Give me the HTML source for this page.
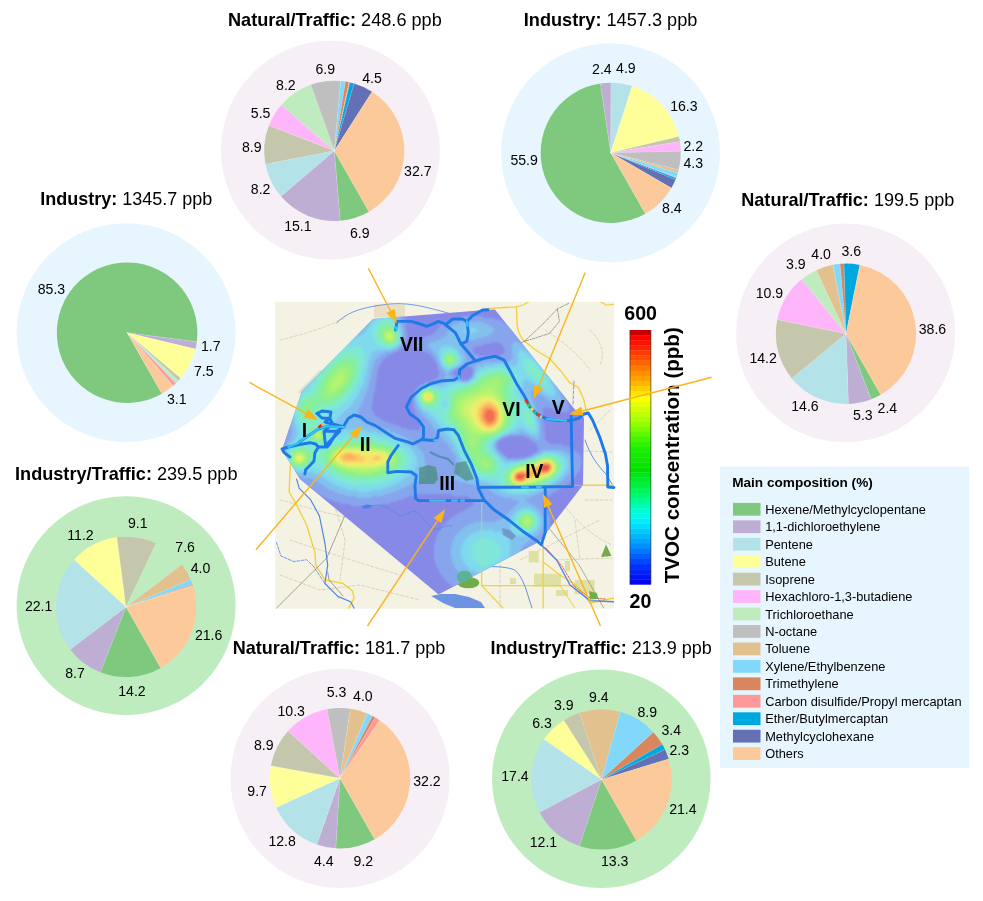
<!DOCTYPE html>
<html><head><meta charset="utf-8"><title>TVOC map</title>
<style>html,body{margin:0;padding:0;background:#fff}body{width:983px;height:901px;position:relative;overflow:hidden;font-family:"Liberation Sans",sans-serif}</style>
</head><body>
<svg width="983" height="901" viewBox="0 0 983 901" style="position:absolute;left:0;top:0;font-family:'Liberation Sans',sans-serif;will-change:transform">
<defs>
<clipPath id="cm"><rect x="275.1" y="301.8" width="338.9" height="306.90000000000003"/></clipPath>
<clipPath id="cp"><polygon points="373,319 485,310 495,309.6 574,408.5 584,418 583,485 539.5,541.5 438.5,594.5 300,479 282,450 302,391"/></clipPath>
<filter id="hb" x="-5%" y="-5%" width="110%" height="110%"><feGaussianBlur stdDeviation="1.1"/></filter>
<linearGradient id="jet" x1="0" y1="0" x2="0" y2="1"><stop offset="0%" stop-color="#c00000"/><stop offset="1.2%" stop-color="#cc0000"/><stop offset="2.6%" stop-color="#ff0000"/><stop offset="6%" stop-color="#ff1800"/><stop offset="15%" stop-color="#ff7a00"/><stop offset="22%" stop-color="#ffc000"/><stop offset="27%" stop-color="#ffff00"/><stop offset="36%" stop-color="#a0ff00"/><stop offset="46%" stop-color="#20f000"/><stop offset="55%" stop-color="#00e000"/><stop offset="64%" stop-color="#00f860"/><stop offset="72%" stop-color="#00ffe0"/><stop offset="76%" stop-color="#00e8ff"/><stop offset="85%" stop-color="#0090ff"/><stop offset="93%" stop-color="#0030ff"/><stop offset="100%" stop-color="#0000f0"/></linearGradient>
</defs>
<rect x="275.1" y="301.8" width="338.9" height="306.90000000000003" fill="#f4f3e3"/>
<g clip-path="url(#cm)" fill="none" stroke-linecap="round" stroke-linejoin="round">
<path d="M280,500 C300,505 330,515 360,520 S400,540 430,560" stroke="#d6cfb2" stroke-width="0.9" stroke-dasharray="3 2"/>
<path d="M290,540 C320,550 350,560 400,575" stroke="#d6cfb2" stroke-width="0.9" stroke-dasharray="3 2"/>
<path d="M560,500 C575,520 590,535 612,545" stroke="#d6cfb2" stroke-width="0.9" stroke-dasharray="3 2"/>
<path d="M545,330 C560,340 575,350 590,370" stroke="#d6cfb2" stroke-width="0.9" stroke-dasharray="3 2"/>
<path d="M280,340 C300,335 320,330 345,318" stroke="#d6cfb2" stroke-width="0.9" stroke-dasharray="3 2"/>
<path d="M556,560 L612,558" stroke="#d6cfb2" stroke-width="0.9" stroke-dasharray="3 2"/>
<path d="M500,560 L500,607" stroke="#d6cfb2" stroke-width="0.9" stroke-dasharray="3 2"/>
<path d="M330,490 L345,540 L340,580" stroke="#d6cfb2" stroke-width="0.9" stroke-dasharray="3 2"/>
<path d="M590,330 C600,340 606,352 600,365" stroke="#d6cfb2" stroke-width="0.9" stroke-dasharray="3 2"/>
<path d="M585,500 L612,500" stroke="#d6cfb2" stroke-width="0.9" stroke-dasharray="3 2"/>
<path d="M575,520 L580,560" stroke="#d6cfb2" stroke-width="0.9" stroke-dasharray="3 2"/>
<path d="M520,560 L560,540 L600,520" stroke="#d6cfb2" stroke-width="0.9" stroke-dasharray="3 2"/>
<path d="M280,575 L320,590 L360,585 L420,600" stroke="#d6cfb2" stroke-width="0.9" stroke-dasharray="3 2"/>
<path d="M560,450 L612,452" stroke="#d6cfb2" stroke-width="0.9" stroke-dasharray="3 2"/>
<path d="M590,430 L610,410" stroke="#d6cfb2" stroke-width="0.9" stroke-dasharray="3 2"/>
<rect x="528.7" y="551" width="10" height="11.5" fill="#dfe0a4" stroke="none"/>
<rect x="534" y="573.7" width="27" height="13" fill="#dfe0a4" stroke="none"/>
<rect x="565" y="561" width="5" height="10" fill="#dfe0a4" stroke="none"/>
<rect x="574.6" y="580" width="20" height="14" fill="#dfe0a4" stroke="none"/>
<rect x="510" y="578" width="6" height="6" fill="#dfe0a4" stroke="none"/>
<rect x="556" y="590" width="12" height="6" fill="#dfe0a4" stroke="none"/>
<rect x="374" y="304.5" width="31" height="13" fill="#e9dfc4" stroke="none"/>
<path d="M297.5,392.5 L320,369.5 L322.5,372 L301,394 Z" fill="#e9dfc4" stroke="none"/>
<path d="M488,308.4 L505,307.5 L516.4,306.9 L523,305 L528.4,302" stroke="#f5cf3e" stroke-width="1.3"/>
<path d="M516.4,306.9 L517.1,325.4 L519,333 L523,340 L536.3,350.5 L549.5,358.5 L561.4,371.7 L569.3,382.3 L578.6,387.6 L583.9,400 L586.5,412" stroke="#f5cf3e" stroke-width="1.4"/>
<path d="M583,485.3 L613.7,485.3" stroke="#f5cf3e" stroke-width="1.5"/>
<path d="M601,302.3 L606.4,305 L613.6,304.3" stroke="#f5cf3e" stroke-width="1.2"/>
<path d="M481.7,486 L481.7,585.6 L576.8,585.6 L590,603 L613.7,598" stroke="#f5cf3e" stroke-width="1.3"/>
<path d="M481.7,585.6 L503,608" stroke="#f5cf3e" stroke-width="1.2"/>
<path d="M543.2,542 L543.2,608" stroke="#f5cf3e" stroke-width="1.3"/>
<path d="M543.2,562 L560,575 L576.8,585.6" stroke="#f5cf3e" stroke-width="1.1"/>
<path d="M560,585.6 L575,608" stroke="#f5cf3e" stroke-width="1.0"/>
<path d="M291,461 L290,470 L289.2,492 L297.5,506.6 L306.6,525 L314.9,552.4 L315.8,565.2 L325,579.9 L343.2,583.5 L352.4,590.9 L354.2,598.2 L348.7,608.3" stroke="#f5cf3e" stroke-width="1.4"/>
<path d="M336.7,322.8 C345,314 358,309 373,306.4 S400,302 420,306 S455,316 470,318" stroke="#4f86e6" stroke-width="0.8"/>
<path d="M296.6,479.2 L299.3,488.3 L310.3,499.3 L319.4,515.8 L324.9,543.2 L327.7,565.2 L324.9,583.5 L337.8,596.4 L350.6,601.8 L354.2,608.3" stroke="#4f86e6" stroke-width="1.2"/>
<path d="M276.4,542.3 L281,556 L293.8,561.6 L306.6,559.7 L314,567 L324.9,583.5" stroke="#4f86e6" stroke-width="0.8" stroke-dasharray="3 1.5"/>
<path d="M538.8,542.4 L556.7,560 L570,585 L590,600.6 L613.7,601.7" stroke="#4f86e6" stroke-width="1.4"/>
<path d="M485,567 C495,566 505,567 512,569 S522,580 525.3,587 L532,608" stroke="#4f86e6" stroke-width="0.9"/>
<path d="M585,440 C590,455 598,466 606,474 L612,484" stroke="#4f86e6" stroke-width="0.9"/>
<path d="M573,404 L574,380" stroke="#4f86e6" stroke-width="0.8" stroke-dasharray="3 2"/>
<path d="M546,548 L562,566 L574,586 L590,598 L606,599" stroke="#e0503a" stroke-width="0.9" stroke-dasharray="1.5 1.5"/>
<path d="M276.4,608.3 L326.8,557.9 L343.2,519.4 L356,486.5 L365.2,470 L400,440 L440,410 L470,390" stroke="#555" stroke-width="0.5"/><path d="M327.7,572 L329,580 L343,596" stroke="#444" stroke-width="0.5"/>
<path d="M547.7,526.7 L579,564.8 L603.7,608" stroke="#666" stroke-width="0.5"/>
<path d="M524.4,341.3 L542.9,324 L557.4,308.9 L569.3,303 M557.4,308.9 L559.4,321.4 L549.5,333.4 L533.6,338.6 L524.4,341.3 L500,352" stroke="#666" stroke-width="0.6" stroke-dasharray="3 1.2 0.8 1.2"/>
<path d="M606,544.6 L611.5,556 L601,557 Z" fill="#74ac4c" stroke="none"/>
<path d="M589,591 L597,593 L598,599 L590,599.5 Z" fill="#74ac4c" stroke="none"/>
<ellipse cx="468.3" cy="582.7" rx="11" ry="5.6" fill="#70ac4a" stroke="none"/>
<ellipse cx="462.7" cy="576.5" rx="6" ry="5.5" fill="#5db38c" stroke="none"/>
<path d="M431,596 l10,-2 l14,0 l14,3 l12,5 l4,6 l-30,0 l-12,-5z" fill="#6d94e2" stroke="none"/>
</g>
<g clip-path="url(#cp)">
<rect x="275.1" y="301.8" width="338.9" height="306.90000000000003" fill="#8689e6"/>
<g filter="url(#hb)">
<path fill="#87a5ed" d="M398,314h5v2h-5zM373,316h31v2h-31zM461,316h22v2h-22zM371,318h34v2h-34zM452,318h43v2h-43zM369,320h36v2h-36zM447,320h54v2h-54zM367,322h39v2h-39zM444,322h61v2h-61zM365,324h41v2h-41zM441,324h67v2h-67zM363,326h43v2h-43zM439,326h71v2h-71zM361,328h45v2h-45zM438,328h74v2h-74zM359,330h47v2h-47zM436,330h78v2h-78zM357,332h50v2h-50zM434,332h82v2h-82zM355,334h52v2h-52zM431,334h86v2h-86zM353,336h54v2h-54zM425,336h94v2h-94zM351,338h56v2h-56zM420,338h100v2h-100zM349,340h58v2h-58zM416,340h106v2h-106zM347,342h59v2h-59zM415,342h76v2h-76zM500,342h24v2h-24zM345,344h60v2h-60zM415,344h68v2h-68zM502,344h23v2h-23zM343,346h60v2h-60zM416,346h59v2h-59zM504,346h23v2h-23zM341,348h60v2h-60zM419,348h54v2h-54zM504,348h24v2h-24zM339,350h59v2h-59zM423,350h50v2h-50zM505,350h25v2h-25zM337,352h57v2h-57zM428,352h46v2h-46zM504,352h28v2h-28zM335,354h55v2h-55zM431,354h47v2h-47zM501,354h32v2h-32zM334,356h53v2h-53zM432,356h103v2h-103zM332,358h52v2h-52zM434,358h102v2h-102zM330,360h52v2h-52zM435,360h103v2h-103zM328,362h53v2h-53zM436,362h104v2h-104zM326,364h54v2h-54zM437,364h104v2h-104zM324,366h55v2h-55zM437,366h26v2h-26zM470,366h73v2h-73zM322,368h56v2h-56zM438,368h20v2h-20zM472,368h72v2h-72zM320,370h58v2h-58zM439,370h15v2h-15zM473,370h73v2h-73zM318,372h60v2h-60zM439,372h14v2h-14zM473,372h75v2h-75zM316,374h61v2h-61zM439,374h15v2h-15zM472,374h77v2h-77zM314,376h63v2h-63zM438,376h19v2h-19zM471,376h80v2h-80zM312,378h65v2h-65zM436,378h24v2h-24zM469,378h83v2h-83zM310,380h66v2h-66zM431,380h123v2h-123zM308,382h68v2h-68zM425,382h131v2h-131zM306,384h70v2h-70zM421,384h136v2h-136zM304,386h71v2h-71zM418,386h141v2h-141zM302,388h73v2h-73zM416,388h144v2h-144zM300,390h75v2h-75zM415,390h147v2h-147zM299,392h75v2h-75zM414,392h150v2h-150zM299,394h75v2h-75zM413,394h152v2h-152zM298,396h75v2h-75zM413,396h153v2h-153zM297,398h76v2h-76zM413,398h154v2h-154zM297,400h76v2h-76zM413,400h155v2h-155zM296,402h76v2h-76zM413,402h155v2h-155zM295,404h77v2h-77zM413,404h156v2h-156zM295,406h77v2h-77zM413,406h156v2h-156zM294,408h78v2h-78zM414,408h129v2h-129zM552,408h17v2h-17zM293,410h80v2h-80zM415,410h128v2h-128zM556,410h12v2h-12zM293,412h81v2h-81zM415,412h128v2h-128zM292,414h83v2h-83zM416,414h127v2h-127zM291,416h87v2h-87zM417,416h126v2h-126zM291,418h90v2h-90zM418,418h125v2h-125zM290,420h95v2h-95zM419,420h124v2h-124zM289,422h101v2h-101zM420,422h124v2h-124zM288,424h108v2h-108zM420,424h124v2h-124zM288,426h113v2h-113zM420,426h124v2h-124zM287,428h120v2h-120zM420,428h124v2h-124zM286,430h258v2h-258zM286,432h259v2h-259zM285,434h260v2h-260zM284,436h223v2h-223zM525,436h20v2h-20zM284,438h218v2h-218zM529,438h16v2h-16zM283,440h216v2h-216zM532,440h14v2h-14zM282,442h216v2h-216zM535,442h14v2h-14zM282,444h215v2h-215zM537,444h25v2h-25zM281,446h217v2h-217zM538,446h31v2h-31zM280,448h218v2h-218zM538,448h35v2h-35zM281,450h219v2h-219zM537,450h39v2h-39zM282,452h220v2h-220zM535,452h43v2h-43zM283,454h221v2h-221zM532,454h48v2h-48zM284,456h223v2h-223zM527,456h54v2h-54zM286,458h295v2h-295zM287,460h294v2h-294zM288,462h293v2h-293zM289,464h292v2h-292zM291,466h290v2h-290zM292,468h288v2h-288zM293,470h286v2h-286zM294,472h284v2h-284zM296,474h280v2h-280zM297,476h278v2h-278zM298,478h275v2h-275zM300,480h271v2h-271zM302,482h267v2h-267zM305,484h261v2h-261zM307,486h256v2h-256zM311,488h249v2h-249zM314,490h243v2h-243zM317,492h236v2h-236zM320,494h94v2h-94zM452,494h98v2h-98zM324,496h84v2h-84zM468,496h79v2h-79zM328,498h75v2h-75zM472,498h72v2h-72zM333,500h64v2h-64zM474,500h69v2h-69zM340,502h50v2h-50zM474,502h69v2h-69zM350,504h30v2h-30zM473,504h71v2h-71zM470,506h75v2h-75zM466,508h80v2h-80zM463,510h84v2h-84zM459,512h89v2h-89zM456,514h93v2h-93zM453,516h96v2h-96zM450,518h100v2h-100zM448,520h102v2h-102zM446,522h104v2h-104zM444,524h106v2h-106zM442,526h108v2h-108zM441,528h108v2h-108zM440,530h108v2h-108zM438,532h110v2h-110zM437,534h110v2h-110zM437,536h108v2h-108zM436,538h107v2h-107zM435,540h107v2h-107zM435,542h105v2h-105zM434,544h103v2h-103zM434,546h99v2h-99zM434,548h95v2h-95zM434,550h91v2h-91zM434,552h87v2h-87zM434,554h84v2h-84zM434,556h80v2h-80zM434,558h76v2h-76zM435,560h71v2h-71zM435,562h67v2h-67zM436,564h63v2h-63zM437,566h58v2h-58zM438,568h53v2h-53zM439,570h48v2h-48zM440,572h43v2h-43zM441,574h38v2h-38zM443,576h33v2h-33zM444,578h28v2h-28zM446,580h22v2h-22zM448,582h16v2h-16zM451,584h9v2h-9zM453,586h4v2h-4z"/>
<path fill="#82c1ee" d="M373,316h26v2h-26zM371,318h29v2h-29zM369,320h32v2h-32zM367,322h34v2h-34zM459,322h24v2h-24zM365,324h37v2h-37zM454,324h35v2h-35zM363,326h39v2h-39zM451,326h41v2h-41zM361,328h42v2h-42zM449,328h45v2h-45zM359,330h44v2h-44zM448,330h46v2h-46zM357,332h46v2h-46zM447,332h45v2h-45zM355,334h48v2h-48zM447,334h42v2h-42zM353,336h50v2h-50zM445,336h39v2h-39zM351,338h52v2h-52zM441,338h35v2h-35zM349,340h54v2h-54zM436,340h28v2h-28zM347,342h55v2h-55zM430,342h31v2h-31zM513,342h5v2h-5zM345,344h56v2h-56zM428,344h33v2h-33zM512,344h10v2h-10zM343,346h56v2h-56zM429,346h33v2h-33zM512,346h13v2h-13zM341,348h56v2h-56zM431,348h31v2h-31zM512,348h15v2h-15zM339,350h53v2h-53zM433,350h30v2h-30zM512,350h18v2h-18zM337,352h48v2h-48zM434,352h30v2h-30zM512,352h20v2h-20zM335,354h45v2h-45zM436,354h29v2h-29zM513,354h20v2h-20zM334,356h44v2h-44zM437,356h29v2h-29zM513,356h22v2h-22zM332,358h44v2h-44zM437,358h29v2h-29zM512,358h24v2h-24zM330,360h45v2h-45zM438,360h28v2h-28zM509,360h29v2h-29zM328,362h46v2h-46zM439,362h25v2h-25zM483,362h57v2h-57zM326,364h47v2h-47zM440,364h22v2h-22zM476,364h65v2h-65zM324,366h49v2h-49zM441,366h17v2h-17zM475,366h68v2h-68zM322,368h50v2h-50zM442,368h12v2h-12zM475,368h69v2h-69zM320,370h52v2h-52zM444,370h7v2h-7zM475,370h71v2h-71zM318,372h53v2h-53zM445,372h4v2h-4zM474,372h74v2h-74zM316,374h55v2h-55zM446,374h2v2h-2zM474,374h75v2h-75zM314,376h57v2h-57zM446,376h5v2h-5zM473,376h78v2h-78zM312,378h58v2h-58zM444,378h13v2h-13zM471,378h81v2h-81zM310,380h60v2h-60zM442,380h19v2h-19zM468,380h86v2h-86zM308,382h61v2h-61zM436,382h119v2h-119zM306,384h63v2h-63zM425,384h131v2h-131zM304,386h64v2h-64zM421,386h136v2h-136zM302,388h65v2h-65zM419,388h139v2h-139zM300,390h67v2h-67zM417,390h114v2h-114zM534,390h25v2h-25zM299,392h67v2h-67zM416,392h115v2h-115zM538,392h22v2h-22zM299,394h66v2h-66zM416,394h115v2h-115zM541,394h19v2h-19zM298,396h66v2h-66zM415,396h117v2h-117zM544,396h17v2h-17zM297,398h67v2h-67zM415,398h117v2h-117zM547,398h14v2h-14zM297,400h66v2h-66zM415,400h118v2h-118zM550,400h11v2h-11zM296,402h66v2h-66zM416,402h118v2h-118zM555,402h4v2h-4zM295,404h66v2h-66zM416,404h118v2h-118zM295,406h65v2h-65zM417,406h118v2h-118zM294,408h65v2h-65zM418,408h118v2h-118zM293,410h65v2h-65zM420,410h117v2h-117zM293,412h65v2h-65zM421,412h116v2h-116zM292,414h65v2h-65zM423,414h115v2h-115zM291,416h67v2h-67zM425,416h113v2h-113zM291,418h68v2h-68zM427,418h112v2h-112zM291,420h70v2h-70zM429,420h110v2h-110zM291,422h74v2h-74zM430,422h110v2h-110zM291,424h79v2h-79zM432,424h108v2h-108zM291,426h86v2h-86zM433,426h107v2h-107zM292,428h92v2h-92zM435,428h105v2h-105zM292,430h98v2h-98zM436,430h104v2h-104zM292,432h103v2h-103zM438,432h82v2h-82zM523,432h17v2h-17zM291,434h109v2h-109zM439,434h70v2h-70zM528,434h12v2h-12zM291,436h113v2h-113zM441,436h62v2h-62zM531,436h9v2h-9zM290,438h117v2h-117zM443,438h57v2h-57zM535,438h3v2h-3zM289,440h122v2h-122zM445,440h52v2h-52zM288,442h126v2h-126zM447,442h49v2h-49zM287,444h129v2h-129zM448,444h47v2h-47zM286,446h132v2h-132zM450,446h45v2h-45zM285,448h135v2h-135zM451,448h45v2h-45zM284,450h138v2h-138zM452,450h45v2h-45zM542,450h21v2h-21zM283,452h140v2h-140zM454,452h45v2h-45zM539,452h28v2h-28zM283,454h141v2h-141zM455,454h46v2h-46zM535,454h35v2h-35zM284,456h140v2h-140zM456,456h47v2h-47zM531,456h40v2h-40zM286,458h139v2h-139zM456,458h50v2h-50zM524,458h49v2h-49zM287,460h138v2h-138zM457,460h116v2h-116zM288,462h137v2h-137zM458,462h115v2h-115zM289,464h137v2h-137zM458,464h115v2h-115zM291,466h135v2h-135zM459,466h114v2h-114zM292,468h134v2h-134zM459,468h113v2h-113zM293,470h133v2h-133zM459,470h112v2h-112zM294,472h132v2h-132zM459,472h111v2h-111zM296,474h130v2h-130zM457,474h111v2h-111zM303,476h122v2h-122zM455,476h111v2h-111zM312,478h110v2h-110zM444,478h120v2h-120zM317,480h101v2h-101zM459,480h103v2h-103zM320,482h93v2h-93zM467,482h92v2h-92zM323,484h86v2h-86zM474,484h82v2h-82zM326,486h79v2h-79zM482,486h71v2h-71zM329,488h72v2h-72zM487,488h62v2h-62zM334,490h62v2h-62zM491,490h54v2h-54zM338,492h53v2h-53zM494,492h46v2h-46zM345,494h39v2h-39zM498,494h37v2h-37zM356,496h16v2h-16zM503,496h28v2h-28zM512,498h15v2h-15zM519,500h6v2h-6zM518,502h11v2h-11zM516,504h17v2h-17zM514,506h22v2h-22zM512,508h26v2h-26zM510,510h30v2h-30zM508,512h33v2h-33zM506,514h36v2h-36zM504,516h39v2h-39zM502,518h41v2h-41zM497,520h47v2h-47zM474,522h70v2h-70zM469,524h74v2h-74zM465,526h78v2h-78zM462,528h80v2h-80zM460,530h81v2h-81zM458,532h81v2h-81zM456,534h82v2h-82zM455,536h80v2h-80zM454,538h78v2h-78zM453,540h76v2h-76zM452,542h74v2h-74zM452,544h71v2h-71zM451,546h71v2h-71zM451,548h70v2h-70zM451,550h70v2h-70zM451,552h70v2h-70zM451,554h67v2h-67zM451,556h63v2h-63zM452,558h58v2h-58zM452,560h54v2h-54zM453,562h49v2h-49zM454,564h45v2h-45zM455,566h40v2h-40zM456,568h35v2h-35zM458,570h29v2h-29zM460,572h23v2h-23zM462,574h17v2h-17zM465,576h11v2h-11zM469,578h3v2h-3z"/>
<path fill="#7edaec" d="M377,316h17v2h-17zM375,318h20v2h-20zM373,320h24v2h-24zM371,322h27v2h-27zM370,324h29v2h-29zM369,326h30v2h-30zM367,328h33v2h-33zM464,328h12v2h-12zM366,330h35v2h-35zM463,330h14v2h-14zM364,332h37v2h-37zM466,332h6v2h-6zM361,334h40v2h-40zM355,336h46v2h-46zM351,338h50v2h-50zM349,340h52v2h-52zM347,342h53v2h-53zM345,344h54v2h-54zM343,346h53v2h-53zM442,346h11v2h-11zM341,348h51v2h-51zM440,348h16v2h-16zM339,350h36v2h-36zM439,350h19v2h-19zM519,350h4v2h-4zM337,352h35v2h-35zM439,352h20v2h-20zM518,352h9v2h-9zM335,354h36v2h-36zM439,354h21v2h-21zM518,354h12v2h-12zM334,356h36v2h-36zM440,356h21v2h-21zM518,356h14v2h-14zM332,358h38v2h-38zM440,358h21v2h-21zM518,358h16v2h-16zM330,360h39v2h-39zM440,360h21v2h-21zM518,360h18v2h-18zM328,362h41v2h-41zM441,362h19v2h-19zM517,362h21v2h-21zM326,364h42v2h-42zM442,364h16v2h-16zM494,364h11v2h-11zM517,364h23v2h-23zM324,366h44v2h-44zM444,366h11v2h-11zM484,366h58v2h-58zM322,368h45v2h-45zM446,368h4v2h-4zM479,368h64v2h-64zM320,370h47v2h-47zM477,370h68v2h-68zM318,372h49v2h-49zM476,372h70v2h-70zM316,374h50v2h-50zM475,374h72v2h-72zM314,376h51v2h-51zM474,376h75v2h-75zM312,378h53v2h-53zM473,378h77v2h-77zM310,380h54v2h-54zM470,380h54v2h-54zM529,380h22v2h-22zM308,382h56v2h-56zM448,382h75v2h-75zM532,382h20v2h-20zM306,384h57v2h-57zM444,384h79v2h-79zM535,384h18v2h-18zM304,386h58v2h-58zM424,386h98v2h-98zM537,386h17v2h-17zM302,388h59v2h-59zM421,388h101v2h-101zM540,388h14v2h-14zM301,390h59v2h-59zM419,390h104v2h-104zM542,390h13v2h-13zM299,392h60v2h-60zM418,392h105v2h-105zM545,392h10v2h-10zM299,394h59v2h-59zM417,394h107v2h-107zM549,394h5v2h-5zM298,396h59v2h-59zM417,396h108v2h-108zM297,398h58v2h-58zM417,398h110v2h-110zM297,400h57v2h-57zM417,400h111v2h-111zM296,402h57v2h-57zM418,402h111v2h-111zM295,404h56v2h-56zM419,404h112v2h-112zM295,406h54v2h-54zM420,406h112v2h-112zM294,408h53v2h-53zM422,408h111v2h-111zM293,410h52v2h-52zM424,410h110v2h-110zM293,412h50v2h-50zM427,412h107v2h-107zM293,414h48v2h-48zM429,414h106v2h-106zM294,416h45v2h-45zM432,416h104v2h-104zM294,418h43v2h-43zM434,418h102v2h-102zM294,420h42v2h-42zM436,420h101v2h-101zM295,422h41v2h-41zM437,422h100v2h-100zM295,424h40v2h-40zM439,424h99v2h-99zM296,426h40v2h-40zM440,426h98v2h-98zM296,428h43v2h-43zM442,428h77v2h-77zM525,428h13v2h-13zM297,430h69v2h-69zM444,430h71v2h-71zM527,430h11v2h-11zM297,432h80v2h-80zM446,432h64v2h-64zM530,432h7v2h-7zM297,434h88v2h-88zM448,434h56v2h-56zM296,436h95v2h-95zM449,436h51v2h-51zM295,438h101v2h-101zM451,438h46v2h-46zM294,440h106v2h-106zM452,440h43v2h-43zM293,442h110v2h-110zM453,442h41v2h-41zM291,444h115v2h-115zM454,444h39v2h-39zM289,446h120v2h-120zM455,446h38v2h-38zM288,448h123v2h-123zM456,448h38v2h-38zM287,450h126v2h-126zM457,450h38v2h-38zM286,452h128v2h-128zM458,452h38v2h-38zM543,452h14v2h-14zM286,454h129v2h-129zM459,454h39v2h-39zM539,454h23v2h-23zM286,456h130v2h-130zM460,456h40v2h-40zM534,456h31v2h-31zM286,458h131v2h-131zM461,458h41v2h-41zM528,458h39v2h-39zM287,460h130v2h-130zM462,460h42v2h-42zM519,460h49v2h-49zM288,462h129v2h-129zM463,462h105v2h-105zM289,464h127v2h-127zM463,464h105v2h-105zM291,466h125v2h-125zM464,466h104v2h-104zM292,468h123v2h-123zM465,468h102v2h-102zM295,470h118v2h-118zM467,470h99v2h-99zM313,472h99v2h-99zM468,472h97v2h-97zM320,474h90v2h-90zM470,474h93v2h-93zM323,476h84v2h-84zM472,476h89v2h-89zM326,478h78v2h-78zM475,478h84v2h-84zM329,480h72v2h-72zM481,480h76v2h-76zM332,482h65v2h-65zM488,482h66v2h-66zM336,484h57v2h-57zM493,484h57v2h-57zM341,486h47v2h-47zM496,486h50v2h-50zM347,488h35v2h-35zM499,488h43v2h-43zM358,490h13v2h-13zM502,490h34v2h-34zM507,492h22v2h-22zM521,508h10v2h-10zM517,510h18v2h-18zM515,512h22v2h-22zM514,514h24v2h-24zM512,516h27v2h-27zM511,518h29v2h-29zM511,520h29v2h-29zM510,522h30v2h-30zM510,524h30v2h-30zM510,526h29v2h-29zM510,528h28v2h-28zM479,530h14v2h-14zM510,530h26v2h-26zM474,532h27v2h-27zM511,532h22v2h-22zM470,534h36v2h-36zM515,534h14v2h-14zM468,536h40v2h-40zM466,538h43v2h-43zM464,540h45v2h-45zM463,542h47v2h-47zM462,544h48v2h-48zM462,546h48v2h-48zM461,548h49v2h-49zM461,550h49v2h-49zM461,552h49v2h-49zM461,554h49v2h-49zM462,556h47v2h-47zM462,558h47v2h-47zM463,560h43v2h-43zM464,562h38v2h-38zM466,564h33v2h-33zM468,566h27v2h-27zM470,568h21v2h-21zM474,570h13v2h-13zM479,572h4v2h-4z"/>
<path fill="#7fe6da" d="M381,318h9v2h-9zM378,320h15v2h-15zM376,322h19v2h-19zM375,324h21v2h-21zM374,326h23v2h-23zM373,328h25v2h-25zM372,330h27v2h-27zM372,332h27v2h-27zM372,334h28v2h-28zM372,336h28v2h-28zM372,338h28v2h-28zM373,340h26v2h-26zM375,342h23v2h-23zM379,344h18v2h-18zM345,346h17v2h-17zM384,346h9v2h-9zM341,348h22v2h-22zM339,350h25v2h-25zM445,350h9v2h-9zM337,352h28v2h-28zM443,352h13v2h-13zM335,354h30v2h-30zM442,354h15v2h-15zM334,356h31v2h-31zM442,356h16v2h-16zM332,358h33v2h-33zM442,358h17v2h-17zM523,358h7v2h-7zM330,360h35v2h-35zM442,360h17v2h-17zM522,360h11v2h-11zM328,362h36v2h-36zM443,362h15v2h-15zM523,362h12v2h-12zM326,364h38v2h-38zM444,364h12v2h-12zM523,364h14v2h-14zM324,366h40v2h-40zM447,366h5v2h-5zM523,366h16v2h-16zM322,368h41v2h-41zM488,368h22v2h-22zM524,368h16v2h-16zM320,370h43v2h-43zM482,370h32v2h-32zM525,370h17v2h-17zM318,372h44v2h-44zM479,372h37v2h-37zM526,372h17v2h-17zM317,374h45v2h-45zM477,374h41v2h-41zM528,374h16v2h-16zM316,376h45v2h-45zM476,376h42v2h-42zM531,376h15v2h-15zM315,378h46v2h-46zM474,378h44v2h-44zM533,378h14v2h-14zM314,380h46v2h-46zM472,380h46v2h-46zM535,380h13v2h-13zM312,382h47v2h-47zM469,382h49v2h-49zM537,382h11v2h-11zM311,384h47v2h-47zM453,384h64v2h-64zM540,384h9v2h-9zM310,386h47v2h-47zM428,386h3v2h-3zM449,386h68v2h-68zM543,386h6v2h-6zM308,388h48v2h-48zM422,388h17v2h-17zM445,388h72v2h-72zM306,390h49v2h-49zM420,390h97v2h-97zM304,392h49v2h-49zM419,392h98v2h-98zM302,394h50v2h-50zM418,394h100v2h-100zM300,396h51v2h-51zM418,396h101v2h-101zM299,398h50v2h-50zM418,398h102v2h-102zM298,400h49v2h-49zM419,400h24v2h-24zM446,400h76v2h-76zM297,402h48v2h-48zM420,402h22v2h-22zM447,402h77v2h-77zM296,404h46v2h-46zM421,404h21v2h-21zM447,404h79v2h-79zM296,406h44v2h-44zM423,406h20v2h-20zM445,406h83v2h-83zM296,408h41v2h-41zM426,408h104v2h-104zM296,410h38v2h-38zM430,410h101v2h-101zM296,412h35v2h-35zM434,412h98v2h-98zM296,414h33v2h-33zM436,414h97v2h-97zM296,416h31v2h-31zM438,416h96v2h-96zM297,418h29v2h-29zM440,418h94v2h-94zM298,420h27v2h-27zM441,420h78v2h-78zM521,420h14v2h-14zM298,422h27v2h-27zM443,422h74v2h-74zM524,422h11v2h-11zM299,424h26v2h-26zM445,424h71v2h-71zM525,424h10v2h-10zM300,426h26v2h-26zM446,426h68v2h-68zM527,426h8v2h-8zM301,428h26v2h-26zM448,428h64v2h-64zM529,428h6v2h-6zM302,430h26v2h-26zM450,430h59v2h-59zM302,432h26v2h-26zM451,432h55v2h-55zM302,434h27v2h-27zM453,434h49v2h-49zM302,436h27v2h-27zM344,436h32v2h-32zM454,436h44v2h-44zM302,438h28v2h-28zM335,438h49v2h-49zM455,438h40v2h-40zM300,440h90v2h-90zM456,440h37v2h-37zM298,442h97v2h-97zM457,442h34v2h-34zM295,444h104v2h-104zM458,444h32v2h-32zM293,446h109v2h-109zM459,446h31v2h-31zM291,448h114v2h-114zM459,448h32v2h-32zM290,450h117v2h-117zM460,450h32v2h-32zM289,452h119v2h-119zM461,452h33v2h-33zM288,454h121v2h-121zM462,454h34v2h-34zM542,454h14v2h-14zM288,456h122v2h-122zM463,456h34v2h-34zM537,456h23v2h-23zM288,458h123v2h-123zM464,458h35v2h-35zM532,458h30v2h-30zM288,460h123v2h-123zM465,460h35v2h-35zM525,460h39v2h-39zM289,462h121v2h-121zM466,462h35v2h-35zM516,462h48v2h-48zM290,464h120v2h-120zM467,464h36v2h-36zM510,464h55v2h-55zM292,466h117v2h-117zM468,466h96v2h-96zM296,468h13v2h-13zM320,468h87v2h-87zM470,468h94v2h-94zM323,470h83v2h-83zM471,470h92v2h-92zM326,472h77v2h-77zM473,472h89v2h-89zM329,474h72v2h-72zM476,474h84v2h-84zM332,476h66v2h-66zM480,476h78v2h-78zM335,478h59v2h-59zM488,478h68v2h-68zM339,480h51v2h-51zM497,480h56v2h-56zM344,482h41v2h-41zM499,482h51v2h-51zM351,484h27v2h-27zM501,484h44v2h-44zM503,486h38v2h-38zM506,488h29v2h-29zM512,490h15v2h-15zM523,510h7v2h-7zM519,512h15v2h-15zM517,514h18v2h-18zM516,516h21v2h-21zM515,518h22v2h-22zM515,520h23v2h-23zM515,522h22v2h-22zM515,524h22v2h-22zM516,526h20v2h-20zM517,528h17v2h-17zM520,530h12v2h-12zM482,538h8v2h-8zM477,540h18v2h-18zM474,542h23v2h-23zM473,544h26v2h-26zM472,546h28v2h-28zM471,548h29v2h-29zM471,550h30v2h-30zM471,552h30v2h-30zM471,554h29v2h-29zM472,556h28v2h-28zM473,558h26v2h-26zM474,560h23v2h-23zM477,562h17v2h-17zM482,564h7v2h-7z"/>
<path fill="#81edc0" d="M382,322h9v2h-9zM379,324h14v2h-14zM378,326h17v2h-17zM377,328h19v2h-19zM377,330h20v2h-20zM376,332h22v2h-22zM376,334h22v2h-22zM377,336h22v2h-22zM378,338h20v2h-20zM379,340h19v2h-19zM381,342h16v2h-16zM385,344h9v2h-9zM345,352h11v2h-11zM446,352h7v2h-7zM341,354h17v2h-17zM444,354h11v2h-11zM338,356h21v2h-21zM443,356h14v2h-14zM335,358h25v2h-25zM443,358h14v2h-14zM333,360h27v2h-27zM443,360h14v2h-14zM331,362h29v2h-29zM444,362h12v2h-12zM329,364h31v2h-31zM446,364h8v2h-8zM529,364h2v2h-2zM327,366h33v2h-33zM529,366h5v2h-5zM325,368h35v2h-35zM529,368h7v2h-7zM324,370h36v2h-36zM490,370h17v2h-17zM530,370h8v2h-8zM323,372h36v2h-36zM484,372h27v2h-27zM532,372h7v2h-7zM321,374h37v2h-37zM481,374h32v2h-32zM534,374h6v2h-6zM320,376h38v2h-38zM478,376h36v2h-36zM536,376h5v2h-5zM319,378h38v2h-38zM477,378h37v2h-37zM539,378h2v2h-2zM318,380h38v2h-38zM475,380h39v2h-39zM317,382h38v2h-38zM472,382h42v2h-42zM316,384h38v2h-38zM468,384h45v2h-45zM315,386h38v2h-38zM458,386h55v2h-55zM314,388h38v2h-38zM424,388h9v2h-9zM453,388h60v2h-60zM312,390h38v2h-38zM421,390h16v2h-16zM450,390h62v2h-62zM310,392h39v2h-39zM420,392h20v2h-20zM449,392h63v2h-63zM306,394h41v2h-41zM419,394h22v2h-22zM448,394h64v2h-64zM304,396h41v2h-41zM419,396h22v2h-22zM448,396h65v2h-65zM302,398h41v2h-41zM419,398h21v2h-21zM449,398h65v2h-65zM300,400h41v2h-41zM420,400h20v2h-20zM449,400h65v2h-65zM299,402h39v2h-39zM421,402h18v2h-18zM449,402h66v2h-66zM299,404h36v2h-36zM423,404h16v2h-16zM449,404h66v2h-66zM298,406h33v2h-33zM427,406h11v2h-11zM449,406h67v2h-67zM298,408h29v2h-29zM448,408h68v2h-68zM298,410h25v2h-25zM446,410h70v2h-70zM525,410h1v2h-1zM298,412h22v2h-22zM445,412h71v2h-71zM524,412h5v2h-5zM299,414h20v2h-20zM444,414h71v2h-71zM524,414h6v2h-6zM299,416h19v2h-19zM444,416h71v2h-71zM525,416h6v2h-6zM300,418h17v2h-17zM445,418h69v2h-69zM525,418h7v2h-7zM301,420h16v2h-16zM446,420h68v2h-68zM527,420h5v2h-5zM303,422h14v2h-14zM448,422h65v2h-65zM528,422h5v2h-5zM305,424h14v2h-14zM450,424h62v2h-62zM530,424h2v2h-2zM306,426h16v2h-16zM451,426h59v2h-59zM307,428h17v2h-17zM453,428h56v2h-56zM308,430h17v2h-17zM454,430h52v2h-52zM308,432h18v2h-18zM456,432h47v2h-47zM308,434h18v2h-18zM457,434h42v2h-42zM308,436h18v2h-18zM458,436h38v2h-38zM309,438h17v2h-17zM459,438h33v2h-33zM310,440h15v2h-15zM343,440h37v2h-37zM459,440h31v2h-31zM311,442h12v2h-12zM335,442h52v2h-52zM460,442h28v2h-28zM330,444h62v2h-62zM461,444h26v2h-26zM297,446h14v2h-14zM326,446h70v2h-70zM461,446h26v2h-26zM294,448h19v2h-19zM323,448h76v2h-76zM462,448h26v2h-26zM292,450h23v2h-23zM320,450h81v2h-81zM463,450h26v2h-26zM290,452h113v2h-113zM464,452h27v2h-27zM290,454h115v2h-115zM465,454h28v2h-28zM289,456h116v2h-116zM466,456h28v2h-28zM540,456h16v2h-16zM289,458h117v2h-117zM467,458h29v2h-29zM535,458h24v2h-24zM290,460h116v2h-116zM468,460h29v2h-29zM528,460h32v2h-32zM291,462h22v2h-22zM320,462h85v2h-85zM469,462h29v2h-29zM521,462h40v2h-40zM292,464h18v2h-18zM323,464h82v2h-82zM471,464h28v2h-28zM515,464h47v2h-47zM295,466h11v2h-11zM325,466h78v2h-78zM472,466h27v2h-27zM511,466h51v2h-51zM327,468h75v2h-75zM474,468h26v2h-26zM508,468h53v2h-53zM330,470h69v2h-69zM476,470h23v2h-23zM505,470h55v2h-55zM333,472h64v2h-64zM478,472h20v2h-20zM503,472h56v2h-56zM336,474h57v2h-57zM482,474h13v2h-13zM502,474h56v2h-56zM340,476h49v2h-49zM502,476h54v2h-54zM345,478h39v2h-39zM502,478h51v2h-51zM352,480h25v2h-25zM503,480h47v2h-47zM504,482h42v2h-42zM505,484h36v2h-36zM508,486h28v2h-28zM512,488h16v2h-16zM523,512h7v2h-7zM520,514h13v2h-13zM519,516h16v2h-16zM518,518h18v2h-18zM517,520h19v2h-19zM517,522h19v2h-19zM518,524h17v2h-17zM519,526h15v2h-15zM521,528h11v2h-11z"/>
<path fill="#85ef9e" d="M385,324h4v2h-4zM382,326h11v2h-11zM380,328h14v2h-14zM380,330h16v2h-16zM379,332h18v2h-18zM379,334h18v2h-18zM380,336h17v2h-17zM381,338h16v2h-16zM382,340h14v2h-14zM384,342h11v2h-11zM446,354h7v2h-7zM445,356h10v2h-10zM343,358h11v2h-11zM444,358h12v2h-12zM339,360h16v2h-16zM445,360h10v2h-10zM336,362h20v2h-20zM446,362h8v2h-8zM334,364h22v2h-22zM449,364h1v2h-1zM332,366h25v2h-25zM330,368h26v2h-26zM328,370h28v2h-28zM327,372h29v2h-29zM492,372h12v2h-12zM325,374h30v2h-30zM486,374h22v2h-22zM324,376h31v2h-31zM482,376h27v2h-27zM323,378h31v2h-31zM480,378h30v2h-30zM322,380h31v2h-31zM477,380h33v2h-33zM321,382h31v2h-31zM475,382h35v2h-35zM320,384h31v2h-31zM472,384h38v2h-38zM319,386h31v2h-31zM467,386h42v2h-42zM318,388h30v2h-30zM428,388h1v2h-1zM461,388h47v2h-47zM318,390h29v2h-29zM423,390h11v2h-11zM456,390h52v2h-52zM317,392h28v2h-28zM421,392h15v2h-15zM454,392h54v2h-54zM316,394h27v2h-27zM420,394h18v2h-18zM452,394h56v2h-56zM314,396h27v2h-27zM420,396h18v2h-18zM451,396h58v2h-58zM306,398h32v2h-32zM420,398h18v2h-18zM451,398h58v2h-58zM303,400h32v2h-32zM421,400h16v2h-16zM451,400h59v2h-59zM302,402h29v2h-29zM423,402h13v2h-13zM451,402h60v2h-60zM301,404h18v2h-18zM426,404h8v2h-8zM451,404h60v2h-60zM300,406h16v2h-16zM451,406h60v2h-60zM300,408h15v2h-15zM450,408h62v2h-62zM300,410h14v2h-14zM449,410h63v2h-63zM301,412h11v2h-11zM449,412h63v2h-63zM302,414h9v2h-9zM448,414h64v2h-64zM304,416h5v2h-5zM449,416h62v2h-62zM449,418h62v2h-62zM451,420h59v2h-59zM452,422h58v2h-58zM454,424h55v2h-55zM456,426h52v2h-52zM313,428h8v2h-8zM457,428h49v2h-49zM312,430h11v2h-11zM458,430h45v2h-45zM311,432h13v2h-13zM459,432h41v2h-41zM311,434h14v2h-14zM460,434h37v2h-37zM311,436h14v2h-14zM461,436h32v2h-32zM312,438h12v2h-12zM462,438h27v2h-27zM314,440h8v2h-8zM462,440h24v2h-24zM345,442h31v2h-31zM463,442h22v2h-22zM337,444h48v2h-48zM463,444h21v2h-21zM332,446h58v2h-58zM464,446h20v2h-20zM297,448h8v2h-8zM329,448h65v2h-65zM465,448h19v2h-19zM294,450h14v2h-14zM327,450h70v2h-70zM466,450h19v2h-19zM292,452h18v2h-18zM325,452h74v2h-74zM466,452h21v2h-21zM291,454h20v2h-20zM324,454h77v2h-77zM467,454h22v2h-22zM290,456h21v2h-21zM323,456h78v2h-78zM469,456h22v2h-22zM543,456h9v2h-9zM290,458h21v2h-21zM324,458h78v2h-78zM470,458h23v2h-23zM538,458h18v2h-18zM291,460h19v2h-19zM324,460h78v2h-78zM471,460h24v2h-24zM532,460h26v2h-26zM292,462h17v2h-17zM326,462h75v2h-75zM472,462h23v2h-23zM525,462h34v2h-34zM294,464h12v2h-12zM327,464h73v2h-73zM474,464h22v2h-22zM518,464h42v2h-42zM330,466h68v2h-68zM475,466h21v2h-21zM513,466h47v2h-47zM332,468h64v2h-64zM477,468h18v2h-18zM511,468h48v2h-48zM335,470h58v2h-58zM480,470h14v2h-14zM508,470h50v2h-50zM339,472h51v2h-51zM484,472h7v2h-7zM507,472h50v2h-50zM344,474h42v2h-42zM506,474h50v2h-50zM350,476h30v2h-30zM506,476h47v2h-47zM505,478h46v2h-46zM506,480h41v2h-41zM507,482h35v2h-35zM509,484h28v2h-28zM512,486h18v2h-18zM523,514h8v2h-8zM521,516h12v2h-12zM519,518h15v2h-15zM519,520h15v2h-15zM519,522h15v2h-15zM520,524h13v2h-13zM521,526h11v2h-11z"/>
<path fill="#8ff188" d="M384,328h8v2h-8zM382,330h12v2h-12zM382,332h13v2h-13zM382,334h14v2h-14zM382,336h14v2h-14zM383,338h13v2h-13zM384,340h11v2h-11zM387,342h6v2h-6zM446,356h7v2h-7zM446,358h8v2h-8zM446,360h8v2h-8zM344,362h5v2h-5zM447,362h6v2h-6zM340,364h12v2h-12zM337,366h15v2h-15zM334,368h19v2h-19zM332,370h21v2h-21zM331,372h22v2h-22zM329,374h23v2h-23zM495,374h5v2h-5zM328,376h24v2h-24zM488,376h16v2h-16zM326,378h25v2h-25zM485,378h21v2h-21zM325,380h25v2h-25zM482,380h24v2h-24zM324,382h25v2h-25zM479,382h27v2h-27zM323,384h25v2h-25zM476,384h30v2h-30zM323,386h23v2h-23zM473,386h32v2h-32zM322,388h23v2h-23zM469,388h35v2h-35zM322,390h21v2h-21zM424,390h8v2h-8zM463,390h41v2h-41zM321,392h20v2h-20zM422,392h13v2h-13zM459,392h45v2h-45zM322,394h17v2h-17zM421,394h15v2h-15zM456,394h49v2h-49zM322,396h14v2h-14zM421,396h15v2h-15zM455,396h50v2h-50zM324,398h7v2h-7zM421,398h15v2h-15zM454,398h52v2h-52zM422,400h13v2h-13zM453,400h54v2h-54zM424,402h10v2h-10zM453,402h54v2h-54zM305,404h4v2h-4zM453,404h55v2h-55zM304,406h5v2h-5zM452,406h57v2h-57zM304,408h5v2h-5zM452,408h57v2h-57zM305,410h2v2h-2zM452,410h57v2h-57zM451,412h58v2h-58zM452,414h57v2h-57zM452,416h57v2h-57zM453,418h56v2h-56zM455,420h53v2h-53zM457,422h50v2h-50zM458,424h49v2h-49zM460,426h45v2h-45zM461,428h42v2h-42zM314,430h7v2h-7zM462,430h39v2h-39zM313,432h10v2h-10zM463,432h35v2h-35zM312,434h11v2h-11zM463,434h31v2h-31zM313,436h10v2h-10zM464,436h25v2h-25zM314,438h8v2h-8zM465,438h20v2h-20zM465,440h17v2h-17zM466,442h15v2h-15zM344,444h31v2h-31zM466,444h14v2h-14zM337,446h48v2h-48zM467,446h13v2h-13zM333,448h57v2h-57zM468,448h12v2h-12zM296,450h8v2h-8zM330,450h63v2h-63zM469,450h12v2h-12zM294,452h13v2h-13zM328,452h68v2h-68zM470,452h12v2h-12zM292,454h16v2h-16zM327,454h70v2h-70zM471,454h13v2h-13zM292,456h17v2h-17zM327,456h71v2h-71zM472,456h15v2h-15zM292,458h16v2h-16zM327,458h71v2h-71zM474,458h16v2h-16zM540,458h13v2h-13zM292,460h16v2h-16zM328,460h70v2h-70zM475,460h17v2h-17zM535,460h21v2h-21zM294,462h12v2h-12zM329,462h68v2h-68zM476,462h17v2h-17zM528,462h29v2h-29zM297,464h5v2h-5zM331,464h65v2h-65zM477,464h16v2h-16zM521,464h37v2h-37zM333,466h61v2h-61zM479,466h14v2h-14zM516,466h42v2h-42zM337,468h54v2h-54zM481,468h11v2h-11zM513,468h45v2h-45zM341,470h47v2h-47zM510,470h47v2h-47zM346,472h37v2h-37zM509,472h47v2h-47zM354,474h22v2h-22zM508,474h46v2h-46zM508,476h44v2h-44zM508,478h40v2h-40zM508,480h36v2h-36zM509,482h30v2h-30zM511,484h22v2h-22zM516,486h8v2h-8zM522,516h9v2h-9zM521,518h11v2h-11zM521,520h12v2h-12zM521,522h12v2h-12zM522,524h10v2h-10zM524,526h5v2h-5z"/>
<path fill="#a1f27c" d="M385,330h7v2h-7zM384,332h10v2h-10zM383,334h12v2h-12zM384,336h11v2h-11zM385,338h10v2h-10zM387,340h7v2h-7zM448,356h4v2h-4zM447,358h6v2h-6zM447,360h6v2h-6zM340,368h8v2h-8zM337,370h12v2h-12zM335,372h14v2h-14zM333,374h16v2h-16zM331,376h17v2h-17zM330,378h18v2h-18zM493,378h6v2h-6zM329,380h18v2h-18zM488,380h13v2h-13zM328,382h18v2h-18zM485,382h16v2h-16zM327,384h18v2h-18zM482,384h19v2h-19zM326,386h17v2h-17zM479,386h21v2h-21zM326,388h15v2h-15zM476,388h24v2h-24zM326,390h13v2h-13zM426,390h4v2h-4zM471,390h29v2h-29zM326,392h10v2h-10zM423,392h10v2h-10zM467,392h33v2h-33zM329,394h2v2h-2zM422,394h12v2h-12zM462,394h39v2h-39zM422,396h13v2h-13zM459,396h43v2h-43zM422,398h13v2h-13zM457,398h46v2h-46zM423,400h11v2h-11zM456,400h48v2h-48zM426,402h5v2h-5zM455,402h50v2h-50zM455,404h51v2h-51zM455,406h51v2h-51zM454,408h53v2h-53zM454,410h53v2h-53zM455,412h52v2h-52zM455,414h52v2h-52zM456,416h51v2h-51zM458,418h49v2h-49zM459,420h47v2h-47zM461,422h44v2h-44zM462,424h43v2h-43zM464,426h39v2h-39zM465,428h36v2h-36zM466,430h33v2h-33zM314,432h7v2h-7zM466,432h29v2h-29zM314,434h8v2h-8zM467,434h23v2h-23zM314,436h8v2h-8zM468,436h14v2h-14zM316,438h4v2h-4zM468,438h11v2h-11zM469,440h8v2h-8zM469,442h7v2h-7zM470,444h6v2h-6zM342,446h33v2h-33zM471,446h4v2h-4zM336,448h49v2h-49zM333,450h57v2h-57zM295,452h9v2h-9zM331,452h62v2h-62zM293,454h13v2h-13zM330,454h64v2h-64zM293,456h14v2h-14zM329,456h66v2h-66zM293,458h14v2h-14zM329,458h66v2h-66zM542,458h9v2h-9zM293,460h13v2h-13zM330,460h65v2h-65zM481,460h6v2h-6zM537,460h17v2h-17zM295,462h9v2h-9zM332,462h62v2h-62zM481,462h8v2h-8zM531,462h25v2h-25zM334,464h58v2h-58zM482,464h7v2h-7zM525,464h32v2h-32zM337,466h53v2h-53zM484,466h4v2h-4zM518,466h39v2h-39zM341,468h45v2h-45zM514,468h42v2h-42zM347,470h34v2h-34zM512,470h44v2h-44zM357,472h15v2h-15zM510,472h44v2h-44zM509,474h44v2h-44zM509,476h41v2h-41zM509,478h37v2h-37zM510,480h31v2h-31zM511,482h24v2h-24zM514,484h14v2h-14zM525,516h4v2h-4zM523,518h8v2h-8zM522,520h10v2h-10zM522,522h9v2h-9zM524,524h6v2h-6z"/>
<path fill="#b3f470" d="M386,332h6v2h-6zM385,334h9v2h-9zM385,336h9v2h-9zM387,338h6v2h-6zM449,358h2v2h-2zM338,374h6v2h-6zM336,376h8v2h-8zM334,378h10v2h-10zM333,380h10v2h-10zM332,382h10v2h-10zM331,384h9v2h-9zM331,386h7v2h-7zM332,388h3v2h-3zM485,388h8v2h-8zM481,390h14v2h-14zM424,392h8v2h-8zM476,392h20v2h-20zM423,394h10v2h-10zM471,394h27v2h-27zM422,396h12v2h-12zM466,396h33v2h-33zM423,398h10v2h-10zM463,398h37v2h-37zM424,400h8v2h-8zM461,400h41v2h-41zM459,402h44v2h-44zM458,404h45v2h-45zM458,406h46v2h-46zM458,408h47v2h-47zM458,410h47v2h-47zM458,412h47v2h-47zM460,414h45v2h-45zM461,416h44v2h-44zM462,418h43v2h-43zM464,420h40v2h-40zM466,422h38v2h-38zM467,424h36v2h-36zM468,426h33v2h-33zM470,428h29v2h-29zM471,430h26v2h-26zM316,432h4v2h-4zM474,432h18v2h-18zM315,434h6v2h-6zM316,436h5v2h-5zM340,448h37v2h-37zM336,450h50v2h-50zM298,452h3v2h-3zM333,452h57v2h-57zM295,454h9v2h-9zM332,454h60v2h-60zM294,456h11v2h-11zM331,456h62v2h-62zM294,458h11v2h-11zM332,458h61v2h-61zM295,460h9v2h-9zM333,460h59v2h-59zM539,460h14v2h-14zM298,462h3v2h-3zM334,462h57v2h-57zM535,462h20v2h-20zM337,464h51v2h-51zM528,464h27v2h-27zM341,466h44v2h-44zM521,466h35v2h-35zM347,468h32v2h-32zM516,468h39v2h-39zM360,470h9v2h-9zM513,470h42v2h-42zM511,472h42v2h-42zM511,474h40v2h-40zM510,476h38v2h-38zM510,478h33v2h-33zM511,480h26v2h-26zM513,482h18v2h-18zM516,484h8v2h-8zM525,518h4v2h-4zM524,520h6v2h-6zM524,522h5v2h-5z"/>
<path fill="#cdf36e" d="M387,334h5v2h-5zM387,336h5v2h-5zM390,338h1v2h-1zM425,392h5v2h-5zM423,394h9v2h-9zM481,394h12v2h-12zM423,396h10v2h-10zM476,396h19v2h-19zM424,398h8v2h-8zM472,398h25v2h-25zM426,400h4v2h-4zM468,400h31v2h-31zM465,402h35v2h-35zM464,404h37v2h-37zM463,406h39v2h-39zM463,408h40v2h-40zM463,410h40v2h-40zM464,412h40v2h-40zM465,414h39v2h-39zM466,416h38v2h-38zM468,418h35v2h-35zM469,420h34v2h-34zM471,422h31v2h-31zM473,424h28v2h-28zM474,426h26v2h-26zM476,428h21v2h-21zM480,430h14v2h-14zM318,434h1v2h-1zM345,448h13v2h-13zM339,450h42v2h-42zM336,452h51v2h-51zM297,454h5v2h-5zM334,454h55v2h-55zM295,456h9v2h-9zM333,456h57v2h-57zM295,458h9v2h-9zM334,458h56v2h-56zM296,460h6v2h-6zM335,460h55v2h-55zM541,460h10v2h-10zM337,462h51v2h-51zM537,462h16v2h-16zM340,464h44v2h-44zM531,464h23v2h-23zM346,466h32v2h-32zM525,466h30v2h-30zM518,468h36v2h-36zM514,470h40v2h-40zM513,472h39v2h-39zM511,474h39v2h-39zM511,476h34v2h-34zM511,478h29v2h-29zM512,480h22v2h-22zM514,482h13v2h-13z"/>
<path fill="#e8f26d" d="M424,394h7v2h-7zM424,396h7v2h-7zM425,398h6v2h-6zM480,398h14v2h-14zM477,400h19v2h-19zM474,402h24v2h-24zM472,404h27v2h-27zM470,406h30v2h-30zM470,408h31v2h-31zM470,410h32v2h-32zM470,412h32v2h-32zM471,414h31v2h-31zM472,416h30v2h-30zM473,418h29v2h-29zM474,420h27v2h-27zM475,422h26v2h-26zM477,424h22v2h-22zM479,426h19v2h-19zM481,428h14v2h-14zM342,450h19v2h-19zM338,452h45v2h-45zM336,454h51v2h-51zM297,456h5v2h-5zM335,456h53v2h-53zM296,458h6v2h-6zM336,458h52v2h-52zM337,460h50v2h-50zM543,460h7v2h-7zM340,462h44v2h-44zM539,462h13v2h-13zM345,464h33v2h-33zM535,464h19v2h-19zM528,466h26v2h-26zM520,468h34v2h-34zM516,470h37v2h-37zM513,472h38v2h-38zM512,474h36v2h-36zM512,476h30v2h-30zM512,478h24v2h-24zM513,480h17v2h-17zM516,482h8v2h-8z"/>
<path fill="#f6e469" d="M426,394h4v2h-4zM425,396h5v2h-5zM427,398h2v2h-2zM483,400h10v2h-10zM480,402h16v2h-16zM477,404h20v2h-20zM476,406h23v2h-23zM475,408h25v2h-25zM475,410h25v2h-25zM475,412h26v2h-26zM475,414h26v2h-26zM476,416h25v2h-25zM476,418h24v2h-24zM477,420h23v2h-23zM478,422h21v2h-21zM480,424h18v2h-18zM482,426h14v2h-14zM486,428h6v2h-6zM341,452h20v2h-20zM338,454h45v2h-45zM338,456h47v2h-47zM338,458h47v2h-47zM340,460h43v2h-43zM343,462h33v2h-33zM540,462h11v2h-11zM537,464h16v2h-16zM532,466h21v2h-21zM525,468h28v2h-28zM517,470h35v2h-35zM514,472h36v2h-36zM513,474h33v2h-33zM513,476h25v2h-25zM513,478h19v2h-19zM514,480h13v2h-13zM518,482h3v2h-3z"/>
<path fill="#facb64" d="M427,396h1v2h-1zM485,402h7v2h-7zM482,404h13v2h-13zM480,406h17v2h-17zM479,408h19v2h-19zM478,410h21v2h-21zM478,412h21v2h-21zM478,414h21v2h-21zM478,416h21v2h-21zM479,418h20v2h-20zM480,420h18v2h-18zM481,422h16v2h-16zM483,424h13v2h-13zM486,426h7v2h-7zM345,452h8v2h-8zM341,454h19v2h-19zM340,456h24v2h-24zM374,456h6v2h-6zM340,458h26v2h-26zM372,458h8v2h-8zM343,460h20v2h-20zM542,462h8v2h-8zM539,464h13v2h-13zM535,466h17v2h-17zM530,468h22v2h-22zM519,470h32v2h-32zM515,472h34v2h-34zM514,474h28v2h-28zM514,476h20v2h-20zM514,478h14v2h-14zM515,480h10v2h-10z"/>
<path fill="#fcb05e" d="M487,404h4v2h-4zM483,406h11v2h-11zM482,408h14v2h-14zM481,410h16v2h-16zM481,412h17v2h-17zM480,414h18v2h-18zM481,416h17v2h-17zM481,418h16v2h-16zM482,420h15v2h-15zM484,422h12v2h-12zM486,424h7v2h-7zM345,454h8v2h-8zM343,456h13v2h-13zM344,458h13v2h-13zM544,462h5v2h-5zM540,464h11v2h-11zM538,466h14v2h-14zM535,468h16v2h-16zM530,470h20v2h-20zM517,472h30v2h-30zM515,474h19v2h-19zM514,476h15v2h-15zM515,478h11v2h-11zM517,480h6v2h-6z"/>
<path fill="#f78e57" d="M485,408h8v2h-8zM484,410h11v2h-11zM483,412h13v2h-13zM483,414h13v2h-13zM483,416h13v2h-13zM483,418h13v2h-13zM485,420h10v2h-10zM486,422h7v2h-7zM542,464h8v2h-8zM540,466h11v2h-11zM538,468h12v2h-12zM538,470h11v2h-11zM518,472h7v2h-7zM516,474h11v2h-11zM515,476h11v2h-11zM516,478h8v2h-8z"/>
<path fill="#f26d51" d="M487,410h5v2h-5zM486,412h8v2h-8zM485,414h9v2h-9zM485,416h9v2h-9zM486,418h8v2h-8zM488,420h4v2h-4zM543,464h6v2h-6zM541,466h9v2h-9zM540,468h9v2h-9zM541,470h7v2h-7zM517,474h8v2h-8zM516,476h9v2h-9zM517,478h6v2h-6z"/>
<path fill="#ed5a48" d="M543,466h6v2h-6zM542,468h6v2h-6zM518,474h4v2h-4zM517,476h6v2h-6z"/>
<path fill="#e84840" d="M544,466h3v2h-3zM545,468h1v2h-1z"/>
</g>
<g opacity="0.8"><path d="M419,468 l9,-3 l8,2 l2,12 l-4,5 l-15,0z" fill="#4f8e86"/><path d="M456,463 l10,-2 l8,18 l-8,2 l-12,-8z" fill="#56948c"/><path d="M430,452 l8,4 l10,3 l6,6" stroke="#4a86a8" stroke-width="2" fill="none"/></g>
<ellipse cx="464.5" cy="577" rx="7.5" ry="6.5" fill="#58b494"/><path d="M502,528 l8,2 l6,6 l-4,4 l-9,-5z" fill="#6f8fc0" opacity="0.8"/>
<path d="M361.6,506 l6,-1.5 l5,1 l-4,3 l-5,0z" fill="#4a7df0"/><path d="M372,506 C380,503 390,508 396.4,514 S410,508 416.5,512 S428,527 434.8,528.6 S445,524 452,526" stroke="#5a86ee" stroke-width="0.8" fill="none"/>
<path d="M481.7,500 L481.7,594" stroke="#b8dc7a" stroke-width="1.1" fill="none" opacity="0.8"/><path d="M478,485.3 L583,485.3" stroke="#d8c860" stroke-width="1" fill="none" opacity="0.7"/>
</g>
<path d="M395.6,330 L397,321.4 L411.3,321.4 L420,324 L427,326.3 L433,324 L438.4,321.4 L444,323.5 L455.5,332.8 L461,344 L468,352 L475.4,361 L484,358.4 L495.3,356.3 L503.9,359.8 L510,371 L516.8,384 L524.2,395.7 L529.9,407 L537,414 L547,419 L558.4,420.6 L569.8,420.6 L578.3,418.5 L584,414 L588.3,413 L592.5,420 L599.7,437 L605.4,454 L607.5,465.5 L607.8,487 L613.9,487.5" fill="none" stroke="#1d7ae8" stroke-width="2.9" stroke-linejoin="round" stroke-linecap="round"/>
<path d="M447,323.5 L452.6,319 L462.6,319 L466.9,321.4 L468.3,332.8 L466.9,341.3 L461,344" fill="none" stroke="#1d7ae8" stroke-width="2.9" stroke-linejoin="round" stroke-linecap="round"/>
<path d="M466.9,321.4 L472.5,315.7 L482.5,310 L488,309.7" fill="none" stroke="#1d7ae8" stroke-width="2.9" stroke-linejoin="round" stroke-linecap="round"/>
<path d="M475.4,361 L466.9,364 L459.7,369.8 L459,377 L454,380 L442.7,380.7 L431.3,383.5 L421.4,388.5 L411.4,397 L406.4,407 L410,414 L418.5,419.9 L423.5,427 L423.5,437 L421.4,439.8 L412.8,444 L410,442.7 L395.3,438.4 L384,431.3 L375.4,425.6 L366.9,422 L361.2,417 L354,415 L348.3,418.5 L344,425.6 L337,431.3 L329.8,444 L327,447 L318.4,447 L315.6,444 L309.9,442.7 L298.5,444.8 L288.5,447 L282,449 L284.2,452.7 L290,457" fill="none" stroke="#1d7ae8" stroke-width="2.9" stroke-linejoin="round" stroke-linecap="round"/>
<path d="M423.5,439.8 L434.2,440.5 L437.7,437 L438.5,430.5 L447,429 L454,429.8 L458.4,435.5 L464,449.8 L471.2,464 L476.9,478.5 L478.3,488.5 L484,499.9 L494,509.8 L508.5,519.8 L522.7,531.2 L537,541 L541.2,544.7 L545.2,532.6 L545.2,487.3" fill="none" stroke="#1d7ae8" stroke-width="2.9" stroke-linejoin="round" stroke-linecap="round"/>
<path d="M478.3,487.3 L520,487.3 L572.6,486.5 L571.6,440 L571.2,416" fill="none" stroke="#1d7ae8" stroke-width="2.9" stroke-linejoin="round" stroke-linecap="round"/>
<path d="M398.2,445.5 L391,455.5 L387.8,462 L387.8,472.8 L397,471.4 L411.3,472 L416.3,475.6 L414.9,485.6 L415.6,498.4 L418.5,500.6 L437,500.6 L465.5,500.6 L484,500.6" fill="none" stroke="#1d7ae8" stroke-width="2.9" stroke-linejoin="round" stroke-linecap="round"/>
<path d="M317,413.5 L322,411 L331,412 L329.8,418.5 L332.7,424 L344,427 L327,426.3 L318.4,429 L308.5,435.6 L298.5,442.7" fill="none" stroke="#1d7ae8" stroke-width="2.9" stroke-linejoin="round" stroke-linecap="round"/>
<path d="M317,413.5 L322,418 L329.8,418.5 L325,422 L332.7,424" fill="none" stroke="#1d7ae8" stroke-width="2.9" stroke-linejoin="round" stroke-linecap="round"/>
<path d="M324,431.3 L325.5,445.5 L339.8,431.3 L324,431.3 L332.7,424" fill="none" stroke="#1d7ae8" stroke-width="2.9" stroke-linejoin="round" stroke-linecap="round"/>
<path d="M318.4,447 L314.9,452.7 L314,461 L309.9,465.5 L305.6,469.8 L304.9,474" fill="none" stroke="#1d7ae8" stroke-width="2.9" stroke-linejoin="round" stroke-linecap="round"/>
<path d="M344,427 L327,426.3 L318.4,429 L308.5,435.6 L298.5,442.7 L288.5,447" fill="none" stroke="#35c4f2" stroke-width="2.2" stroke-linecap="round" stroke-linejoin="round"/>
<path d="M452,500.6 L457,500.6" fill="none" stroke="#35c4f2" stroke-width="2.2" stroke-linecap="round" stroke-linejoin="round"/>
<path d="M461,500.6 L464,500.6" fill="none" stroke="#35c4f2" stroke-width="2.2" stroke-linecap="round" stroke-linejoin="round"/>
<path d="M430,500.6 L445,500.6" fill="none" stroke="#35c4f2" stroke-width="2.2" stroke-linecap="round" stroke-linejoin="round"/>
<path d="M522,487.3 L528,487.3" fill="none" stroke="#35c4f2" stroke-width="2.2" stroke-linecap="round" stroke-linejoin="round"/>
<path d="M537,487 L541,487" fill="none" stroke="#35c4f2" stroke-width="2.2" stroke-linecap="round" stroke-linejoin="round"/>
<path d="M458.6,376 L459,378" fill="none" stroke="#35c4f2" stroke-width="2.2" stroke-linecap="round" stroke-linejoin="round"/>
<path d="M396,327 L396.5,330" fill="none" stroke="#35c4f2" stroke-width="2.2" stroke-linecap="round" stroke-linejoin="round"/>
<path d="M547,419 L566,420.6" fill="none" stroke="#35c4f2" stroke-width="2.2" stroke-linecap="round" stroke-linejoin="round"/>
<path d="M466.9,321.4 L467.5,326" fill="none" stroke="#35c4f2" stroke-width="2.2" stroke-linecap="round" stroke-linejoin="round"/>
<path d="M436,440 L434.2,440.5" fill="none" stroke="#35c4f2" stroke-width="2.2" stroke-linecap="round" stroke-linejoin="round"/>
<path d="M525.6,399.6 L527.6,403" stroke="#f02a1a" stroke-width="3" fill="none"/><path d="M528,404 L529.4,406.5" stroke="#40d040" stroke-width="3" fill="none"/><path d="M531,408 L533,410.5" stroke="#e8e020" stroke-width="3" fill="none"/><path d="M534,411.5 L535.6,413" stroke="#40d040" stroke-width="3" fill="none"/><path d="M537,414 L539.6,415.8" stroke="#f03a1a" stroke-width="3" fill="none"/><path d="M540.4,416.2 L542,417" stroke="#e8e020" stroke-width="3" fill="none"/>
<path d="M318.6,427.6 L321.4,425" stroke="#e81a1a" stroke-width="2.6" fill="none"/><path d="M321.4,425 L323,424" stroke="#f0b020" stroke-width="2.4" fill="none"/>
<text x="411.7" y="351.2" font-size="19.3" font-weight="bold" text-anchor="middle" fill="#000">VII</text>
<text x="304.5" y="436.8" font-size="19.3" font-weight="bold" text-anchor="middle" fill="#000">I</text>
<text x="365.2" y="451.0" font-size="19.3" font-weight="bold" text-anchor="middle" fill="#000">II</text>
<text x="447.2" y="490.2" font-size="19.3" font-weight="bold" text-anchor="middle" fill="#000">III</text>
<text x="534.3" y="477.5" font-size="19.3" font-weight="bold" text-anchor="middle" fill="#000">IV</text>
<text x="511.4" y="416.0" font-size="19.3" font-weight="bold" text-anchor="middle" fill="#000">VI</text>
<text x="558.1" y="414.2" font-size="19.3" font-weight="bold" text-anchor="middle" fill="#000">V</text>
<rect x="629.9" y="330.00" width="21" height="5.39" fill="#ca0000"/>
<rect x="629.9" y="335.09" width="21" height="5.39" fill="#ff0300"/>
<rect x="629.9" y="340.18" width="21" height="5.39" fill="#ff1100"/>
<rect x="629.9" y="345.26" width="21" height="5.39" fill="#ff2300"/>
<rect x="629.9" y="350.35" width="21" height="5.39" fill="#ff3900"/>
<rect x="629.9" y="355.44" width="21" height="5.39" fill="#ff4e00"/>
<rect x="629.9" y="360.53" width="21" height="5.39" fill="#ff6400"/>
<rect x="629.9" y="365.62" width="21" height="5.39" fill="#ff7a00"/>
<rect x="629.9" y="370.70" width="21" height="5.39" fill="#ff8e00"/>
<rect x="629.9" y="375.79" width="21" height="5.39" fill="#ffa200"/>
<rect x="629.9" y="380.88" width="21" height="5.39" fill="#ffb600"/>
<rect x="629.9" y="385.97" width="21" height="5.39" fill="#ffcd00"/>
<rect x="629.9" y="391.06" width="21" height="5.39" fill="#ffe600"/>
<rect x="629.9" y="396.14" width="21" height="5.39" fill="#ffff00"/>
<rect x="629.9" y="401.23" width="21" height="5.39" fill="#eaff00"/>
<rect x="629.9" y="406.32" width="21" height="5.39" fill="#d5ff00"/>
<rect x="629.9" y="411.41" width="21" height="5.39" fill="#c0ff00"/>
<rect x="629.9" y="416.50" width="21" height="5.39" fill="#abff00"/>
<rect x="629.9" y="421.58" width="21" height="5.39" fill="#93fe00"/>
<rect x="629.9" y="426.67" width="21" height="5.39" fill="#7afa00"/>
<rect x="629.9" y="431.76" width="21" height="5.39" fill="#60f800"/>
<rect x="629.9" y="436.85" width="21" height="5.39" fill="#46f400"/>
<rect x="629.9" y="441.94" width="21" height="5.39" fill="#2df200"/>
<rect x="629.9" y="447.02" width="21" height="5.39" fill="#1cee00"/>
<rect x="629.9" y="452.11" width="21" height="5.39" fill="#15eb00"/>
<rect x="629.9" y="457.20" width="21" height="5.39" fill="#0ee700"/>
<rect x="629.9" y="462.29" width="21" height="5.39" fill="#07e400"/>
<rect x="629.9" y="467.38" width="21" height="5.39" fill="#00e000"/>
<rect x="629.9" y="472.46" width="21" height="5.39" fill="#00e515"/>
<rect x="629.9" y="477.55" width="21" height="5.39" fill="#00eb2b"/>
<rect x="629.9" y="482.64" width="21" height="5.39" fill="#00f040"/>
<rect x="629.9" y="487.73" width="21" height="5.39" fill="#00f555"/>
<rect x="629.9" y="492.82" width="21" height="5.39" fill="#00f970"/>
<rect x="629.9" y="497.90" width="21" height="5.39" fill="#00fb90"/>
<rect x="629.9" y="502.99" width="21" height="5.39" fill="#00fcb0"/>
<rect x="629.9" y="508.08" width="21" height="5.39" fill="#00fed0"/>
<rect x="629.9" y="513.17" width="21" height="5.39" fill="#00f9e8"/>
<rect x="629.9" y="518.26" width="21" height="5.39" fill="#00eef7"/>
<rect x="629.9" y="523.34" width="21" height="5.39" fill="#00deff"/>
<rect x="629.9" y="528.43" width="21" height="5.39" fill="#00cbff"/>
<rect x="629.9" y="533.52" width="21" height="5.39" fill="#00b7ff"/>
<rect x="629.9" y="538.61" width="21" height="5.39" fill="#00a4ff"/>
<rect x="629.9" y="543.70" width="21" height="5.39" fill="#0090ff"/>
<rect x="629.9" y="548.78" width="21" height="5.39" fill="#0078ff"/>
<rect x="629.9" y="553.87" width="21" height="5.39" fill="#0060ff"/>
<rect x="629.9" y="558.96" width="21" height="5.39" fill="#0048ff"/>
<rect x="629.9" y="564.05" width="21" height="5.39" fill="#0030ff"/>
<rect x="629.9" y="569.14" width="21" height="5.39" fill="#0022fb"/>
<rect x="629.9" y="574.22" width="21" height="5.39" fill="#0015f6"/>
<rect x="629.9" y="579.31" width="21" height="5.39" fill="#0007f2"/>
<path d="M630,330V584.4M650.9,330V584.4" stroke="#222" stroke-width="0.6" fill="none"/>
<text x="640.6" y="319.6" font-size="19.6" font-weight="bold" text-anchor="middle" fill="#000">600</text>
<text x="640.4" y="608.3" font-size="19.6" font-weight="bold" text-anchor="middle" fill="#000">20</text>
<text transform="translate(679.3,455.2) rotate(-90)" font-size="20.5" font-weight="bold" text-anchor="middle" fill="#000" textLength="256" lengthAdjust="spacingAndGlyphs">TVOC concentration (ppb)</text>
<path d="M368.3,268.3L390.5,311.0" stroke="#fcb41c" stroke-width="1.4" fill="none"/>
<path d="M396.9,323.2L386.4,313.1L394.6,308.8Z" fill="#fcb41c"/>
<path d="M585.2,272.5L538.6,386.4" stroke="#fcb41c" stroke-width="1.4" fill="none"/>
<path d="M533.4,399.2L534.4,384.7L542.9,388.2Z" fill="#fcb41c"/>
<path d="M249.4,382.4L305.9,413.4" stroke="#fcb41c" stroke-width="1.4" fill="none"/>
<path d="M318.0,420.0L303.7,417.4L308.1,409.3Z" fill="#fcb41c"/>
<path d="M255.9,549.8L353.4,435.7" stroke="#fcb41c" stroke-width="1.4" fill="none"/>
<path d="M362.4,425.2L356.9,438.7L349.9,432.7Z" fill="#fcb41c"/>
<path d="M367.5,626.0L437.6,520.6" stroke="#fcb41c" stroke-width="1.4" fill="none"/>
<path d="M445.2,509.1L441.4,523.1L433.7,518.0Z" fill="#fcb41c"/>
<path d="M600.5,626.0L548.2,506.1" stroke="#fcb41c" stroke-width="1.4" fill="none"/>
<path d="M542.7,493.4L552.4,504.2L544.0,507.9Z" fill="#fcb41c"/>
<path d="M711.6,377.3L582.4,411.0" stroke="#fcb41c" stroke-width="1.4" fill="none"/>
<path d="M569.0,414.5L581.2,406.6L583.5,415.5Z" fill="#fcb41c"/>
<circle cx="330.4" cy="150.2" r="109.5" fill="#f6f0f6"/>
<path d="M334.30,150.80L369.03,211.69A70.1,70.1 0 0 1 340.24,220.65Z" fill="#7fc97f"/>
<path d="M334.30,150.80L340.24,220.65A70.1,70.1 0 0 1 281.00,196.33Z" fill="#beaed4"/>
<path d="M334.30,150.80L281.00,196.33A70.1,70.1 0 0 1 265.48,164.15Z" fill="#b3e2e8"/>
<path d="M334.30,150.80L265.48,164.15A70.1,70.1 0 0 1 268.88,125.61Z" fill="#c5c7ad"/>
<path d="M334.30,150.80L268.88,125.61A70.1,70.1 0 0 1 281.28,104.94Z" fill="#ffb5f9"/>
<path d="M334.30,150.80L281.28,104.94A70.1,70.1 0 0 1 310.76,84.77Z" fill="#bfecbf"/>
<path d="M334.30,150.80L310.76,84.77A70.1,70.1 0 0 1 340.68,80.99Z" fill="#bfbfbf"/>
<path d="M334.30,150.80L340.68,80.99A70.1,70.1 0 0 1 345.48,81.60Z" fill="#81d8fa"/>
<path d="M334.30,150.80L345.48,81.60A70.1,70.1 0 0 1 348.95,82.25Z" fill="#d9865e"/>
<path d="M334.30,150.80L348.95,82.25A70.1,70.1 0 0 1 349.81,82.44Z" fill="#ff9999"/>
<path d="M334.30,150.80L349.81,82.44A70.1,70.1 0 0 1 354.07,83.55Z" fill="#00a8e0"/>
<path d="M334.30,150.80L354.07,83.55A70.1,70.1 0 0 1 372.05,91.73Z" fill="#6470b4"/>
<path d="M334.30,150.80L372.05,91.73A70.1,70.1 0 0 1 369.03,211.69Z" fill="#fcc99b"/>
<path d="M334.30,150.80L369.03,211.69M334.30,150.80L340.24,220.65M334.30,150.80L281.00,196.33M334.30,150.80L265.48,164.15M334.30,150.80L268.88,125.61M334.30,150.80L281.28,104.94M334.30,150.80L310.76,84.77M334.30,150.80L340.68,80.99M334.30,150.80L345.48,81.60M334.30,150.80L348.95,82.25M334.30,150.80L349.81,82.44M334.30,150.80L354.07,83.55M334.30,150.80L372.05,91.73" stroke="#fff" stroke-width="0.45" stroke-opacity="0.55" fill="none" stroke-dasharray="1.6 0.9"/>
<text x="325.3" y="74.4" font-size="14.1" text-anchor="middle" fill="#000">6.9</text>
<text x="285.9" y="89.5" font-size="14.1" text-anchor="middle" fill="#000">8.2</text>
<text x="260.6" y="118.3" font-size="14.1" text-anchor="middle" fill="#000">5.5</text>
<text x="251.8" y="152.4" font-size="14.1" text-anchor="middle" fill="#000">8.9</text>
<text x="260.6" y="193.7" font-size="14.1" text-anchor="middle" fill="#000">8.2</text>
<text x="297.9" y="231.0" font-size="14.1" text-anchor="middle" fill="#000">15.1</text>
<text x="359.7" y="237.7" font-size="14.1" text-anchor="middle" fill="#000">6.9</text>
<text x="417.8" y="175.6" font-size="14.1" text-anchor="middle" fill="#000">32.7</text>
<text x="372" y="82.9" font-size="14.1" text-anchor="middle" fill="#000">4.5</text>
<text x="334.9" y="26.0" font-size="18.1" text-anchor="middle" fill="#000" textLength="213.8" lengthAdjust="spacingAndGlyphs" style="white-space:pre"><tspan font-weight="bold">Natural/Traffic:</tspan> 248.6 ppb</text>
<circle cx="610.5" cy="152.8" r="109.5" fill="#e7f6fe"/>
<path d="M610.70,152.80L645.43,213.69A70.1,70.1 0 1 1 600.39,83.46Z" fill="#7fc97f"/>
<path d="M610.70,152.80L600.39,83.46A70.1,70.1 0 0 1 610.92,82.70Z" fill="#beaed4"/>
<path d="M610.70,152.80L610.92,82.70A70.1,70.1 0 0 1 632.15,86.06Z" fill="#b3e2e8"/>
<path d="M610.70,152.80L632.15,86.06A70.1,70.1 0 0 1 678.86,136.44Z" fill="#ffff99"/>
<path d="M610.70,152.80L678.86,136.44A70.1,70.1 0 0 1 679.90,141.62Z" fill="#c5c7ad"/>
<path d="M610.70,152.80L679.90,141.62A70.1,70.1 0 0 1 680.78,151.26Z" fill="#ffb5f9"/>
<path d="M610.70,152.80L680.78,151.26A70.1,70.1 0 0 1 678.65,170.02Z" fill="#bfbfbf"/>
<path d="M610.70,152.80L678.65,170.02A70.1,70.1 0 0 1 677.83,172.99Z" fill="#e3c18f"/>
<path d="M610.70,152.80L677.83,172.99A70.1,70.1 0 0 1 676.43,177.17Z" fill="#81d8fa"/>
<path d="M610.70,152.80L676.43,177.17A70.1,70.1 0 0 1 676.12,177.99Z" fill="#ff9999"/>
<path d="M610.70,152.80L676.12,177.99A70.1,70.1 0 0 1 675.46,179.63Z" fill="#00a8e0"/>
<path d="M610.70,152.80L675.46,179.63A70.1,70.1 0 0 1 671.37,187.91Z" fill="#6470b4"/>
<path d="M610.70,152.80L671.37,187.91A70.1,70.1 0 0 1 645.43,213.69Z" fill="#fcc99b"/>
<path d="M610.70,152.80L645.43,213.69M610.70,152.80L600.39,83.46M610.70,152.80L610.92,82.70M610.70,152.80L632.15,86.06M610.70,152.80L678.86,136.44M610.70,152.80L679.90,141.62M610.70,152.80L680.78,151.26M610.70,152.80L678.65,170.02M610.70,152.80L677.83,172.99M610.70,152.80L676.43,177.17M610.70,152.80L676.12,177.99M610.70,152.80L675.46,179.63M610.70,152.80L671.37,187.91" stroke="#fff" stroke-width="0.45" stroke-opacity="0.55" fill="none" stroke-dasharray="1.6 0.9"/>
<text x="601.9" y="73.8" font-size="14.1" text-anchor="middle" fill="#000">2.4</text>
<text x="625.9" y="73.0" font-size="14.1" text-anchor="middle" fill="#000">4.9</text>
<text x="683.9" y="111.1" font-size="14.1" text-anchor="middle" fill="#000">16.3</text>
<text x="693.3" y="150.8" font-size="14.1" text-anchor="middle" fill="#000">2.2</text>
<text x="693.3" y="167.6" font-size="14.1" text-anchor="middle" fill="#000">4.3</text>
<text x="671.9" y="213.4" font-size="14.1" text-anchor="middle" fill="#000">8.4</text>
<text x="524.1" y="164.9" font-size="14.1" text-anchor="middle" fill="#000">55.9</text>
<text x="610.6" y="25.9" font-size="18.1" text-anchor="middle" fill="#000" textLength="173.6" lengthAdjust="spacingAndGlyphs" style="white-space:pre"><tspan font-weight="bold">Industry:</tspan> 1457.3 ppb</text>
<circle cx="126.1" cy="332.7" r="109.5" fill="#e7f6fe"/>
<path d="M127.10,332.70L161.93,393.76A70.3,70.3 0 1 1 196.82,341.73Z" fill="#7fc97f"/>
<path d="M127.10,332.70L196.82,341.73A70.3,70.3 0 0 1 195.46,349.11Z" fill="#beaed4"/>
<path d="M127.10,332.70L195.46,349.11A70.3,70.3 0 0 1 180.56,378.36Z" fill="#ffff99"/>
<path d="M127.10,332.70L180.56,378.36A70.3,70.3 0 0 1 178.50,380.66Z" fill="#c5c7ad"/>
<path d="M127.10,332.70L178.50,380.66A70.3,70.3 0 0 1 176.34,382.88Z" fill="#bfecbf"/>
<path d="M127.10,332.70L176.34,382.88A70.3,70.3 0 0 1 175.70,383.49Z" fill="#81d8fa"/>
<path d="M127.10,332.70L175.70,383.49A70.3,70.3 0 0 1 173.09,385.87Z" fill="#ff9999"/>
<path d="M127.10,332.70L173.09,385.87A70.3,70.3 0 0 1 161.93,393.76Z" fill="#fcc99b"/>
<path d="M127.10,332.70L161.93,393.76M127.10,332.70L196.82,341.73M127.10,332.70L195.46,349.11M127.10,332.70L180.56,378.36M127.10,332.70L178.50,380.66M127.10,332.70L176.34,382.88M127.10,332.70L175.70,383.49M127.10,332.70L173.09,385.87" stroke="#fff" stroke-width="0.45" stroke-opacity="0.55" fill="none" stroke-dasharray="1.6 0.9"/>
<text x="51.5" y="294.4" font-size="14.1" text-anchor="middle" fill="#000">85.3</text>
<text x="210.8" y="350.8" font-size="14.1" text-anchor="middle" fill="#000">1.7</text>
<text x="203.7" y="376.2" font-size="14.1" text-anchor="middle" fill="#000">7.5</text>
<text x="176.7" y="403.6" font-size="14.1" text-anchor="middle" fill="#000">3.1</text>
<text x="126.3" y="204.9" font-size="18.1" text-anchor="middle" fill="#000" textLength="172.2" lengthAdjust="spacingAndGlyphs" style="white-space:pre"><tspan font-weight="bold">Industry:</tspan> 1345.7 ppb</text>
<circle cx="126.1" cy="605.7" r="109.5" fill="#bfecbf"/>
<path d="M126.00,606.90L160.78,667.88A70.2,70.2 0 0 1 100.36,672.25Z" fill="#7fc97f"/>
<path d="M126.00,606.90L100.36,672.25A70.2,70.2 0 0 1 70.13,649.40Z" fill="#beaed4"/>
<path d="M126.00,606.90L70.13,649.40A70.2,70.2 0 0 1 74.08,559.65Z" fill="#b3e2e8"/>
<path d="M126.00,606.90L74.08,559.65A70.2,70.2 0 0 1 116.98,537.28Z" fill="#ffff99"/>
<path d="M126.00,606.90L116.98,537.28A70.2,70.2 0 0 1 156.09,543.48Z" fill="#c5c7ad"/>
<path d="M126.00,606.90L156.09,543.48A70.2,70.2 0 0 1 181.87,564.40Z" fill="#bfecbf"/>
<path d="M126.00,606.90L181.87,564.40A70.2,70.2 0 0 1 190.69,579.63Z" fill="#e3c18f"/>
<path d="M126.00,606.90L190.69,579.63A70.2,70.2 0 0 1 192.42,584.16Z" fill="#81d8fa"/>
<path d="M126.00,606.90L192.42,584.16A70.2,70.2 0 0 1 192.70,585.00Z" fill="#d9865e"/>
<path d="M126.00,606.90L192.70,585.00A70.2,70.2 0 0 1 192.97,585.84Z" fill="#ff9999"/>
<path d="M126.00,606.90L192.97,585.84A70.2,70.2 0 0 1 160.78,667.88Z" fill="#fcc99b"/>
<path d="M126.00,606.90L160.78,667.88M126.00,606.90L100.36,672.25M126.00,606.90L70.13,649.40M126.00,606.90L74.08,559.65M126.00,606.90L116.98,537.28M126.00,606.90L156.09,543.48M126.00,606.90L181.87,564.40M126.00,606.90L190.69,579.63M126.00,606.90L192.42,584.16M126.00,606.90L192.70,585.00M126.00,606.90L192.97,585.84" stroke="#fff" stroke-width="0.45" stroke-opacity="0.55" fill="none" stroke-dasharray="1.6 0.9"/>
<text x="137.8" y="527.8" font-size="14.1" text-anchor="middle" fill="#000">9.1</text>
<text x="80.5" y="540.3" font-size="14.1" text-anchor="middle" fill="#000">11.2</text>
<text x="185.1" y="551.9" font-size="14.1" text-anchor="middle" fill="#000">7.6</text>
<text x="200.5" y="572.8" font-size="14.1" text-anchor="middle" fill="#000">4.0</text>
<text x="38.6" y="610.5" font-size="14.1" text-anchor="middle" fill="#000">22.1</text>
<text x="208.6" y="640.4" font-size="14.1" text-anchor="middle" fill="#000">21.6</text>
<text x="75" y="678.1" font-size="14.1" text-anchor="middle" fill="#000">8.7</text>
<text x="132" y="696.4" font-size="14.1" text-anchor="middle" fill="#000">14.2</text>
<text x="126.3" y="480.0" font-size="18.1" text-anchor="middle" fill="#000" textLength="222.4" lengthAdjust="spacingAndGlyphs" style="white-space:pre"><tspan font-weight="bold">Industry/Traffic:</tspan> 239.5 ppb</text>
<circle cx="340.1" cy="778.5" r="109.6" fill="#f6f0f6"/>
<path d="M340.00,778.30L374.78,839.28A70.2,70.2 0 0 1 335.81,848.37Z" fill="#7fc97f"/>
<path d="M340.00,778.30L335.81,848.37A70.2,70.2 0 0 1 316.84,844.57Z" fill="#beaed4"/>
<path d="M340.00,778.30L316.84,844.57A70.2,70.2 0 0 1 276.20,807.59Z" fill="#b3e2e8"/>
<path d="M340.00,778.30L276.20,807.59A70.2,70.2 0 0 1 270.92,765.80Z" fill="#ffff99"/>
<path d="M340.00,778.30L270.92,765.80A70.2,70.2 0 0 1 288.08,731.05Z" fill="#c5c7ad"/>
<path d="M340.00,778.30L288.08,731.05A70.2,70.2 0 0 1 327.06,709.30Z" fill="#ffb5f9"/>
<path d="M340.00,778.30L327.06,709.30A70.2,70.2 0 0 1 350.33,708.86Z" fill="#bfbfbf"/>
<path d="M340.00,778.30L350.33,708.86A70.2,70.2 0 0 1 367.27,713.61Z" fill="#e3c18f"/>
<path d="M340.00,778.30L367.27,713.61A70.2,70.2 0 0 1 372.46,716.05Z" fill="#81d8fa"/>
<path d="M340.00,778.30L372.46,716.05A70.2,70.2 0 0 1 375.16,717.54Z" fill="#d9865e"/>
<path d="M340.00,778.30L375.16,717.54A70.2,70.2 0 0 1 379.64,720.36Z" fill="#ff9999"/>
<path d="M340.00,778.30L379.64,720.36A70.2,70.2 0 0 1 374.78,839.28Z" fill="#fcc99b"/>
<path d="M340.00,778.30L374.78,839.28M340.00,778.30L335.81,848.37M340.00,778.30L316.84,844.57M340.00,778.30L276.20,807.59M340.00,778.30L270.92,765.80M340.00,778.30L288.08,731.05M340.00,778.30L327.06,709.30M340.00,778.30L350.33,708.86M340.00,778.30L367.27,713.61M340.00,778.30L372.46,716.05M340.00,778.30L375.16,717.54M340.00,778.30L379.64,720.36" stroke="#fff" stroke-width="0.45" stroke-opacity="0.55" fill="none" stroke-dasharray="1.6 0.9"/>
<text x="336.5" y="697.1" font-size="14.1" text-anchor="middle" fill="#000">5.3</text>
<text x="362.9" y="700.7" font-size="14.1" text-anchor="middle" fill="#000">4.0</text>
<text x="291.2" y="716.0" font-size="14.1" text-anchor="middle" fill="#000">10.3</text>
<text x="263.7" y="750.0" font-size="14.1" text-anchor="middle" fill="#000">8.9</text>
<text x="257.1" y="796.3" font-size="14.1" text-anchor="middle" fill="#000">9.7</text>
<text x="282.1" y="845.7" font-size="14.1" text-anchor="middle" fill="#000">12.8</text>
<text x="323.8" y="866.0" font-size="14.1" text-anchor="middle" fill="#000">4.4</text>
<text x="363.4" y="866.0" font-size="14.1" text-anchor="middle" fill="#000">9.2</text>
<text x="427" y="786.2" font-size="14.1" text-anchor="middle" fill="#000">32.2</text>
<text x="339.0" y="653.9" font-size="18.1" text-anchor="middle" fill="#000" textLength="212.6" lengthAdjust="spacingAndGlyphs" style="white-space:pre"><tspan font-weight="bold">Natural/Traffic:</tspan> 181.7 ppb</text>
<circle cx="601.3" cy="778.8" r="109.3" fill="#bfecbf"/>
<path d="M601.50,779.40L636.28,840.38A70.2,70.2 0 0 1 579.43,846.04Z" fill="#7fc97f"/>
<path d="M601.50,779.40L579.43,846.04A70.2,70.2 0 0 1 539.51,812.34Z" fill="#beaed4"/>
<path d="M601.50,779.40L539.51,812.34A70.2,70.2 0 0 1 543.89,739.29Z" fill="#b3e2e8"/>
<path d="M601.50,779.40L543.89,739.29A70.2,70.2 0 0 1 563.88,720.13Z" fill="#ffff99"/>
<path d="M601.50,779.40L563.88,720.13A70.2,70.2 0 0 1 579.43,712.76Z" fill="#c5c7ad"/>
<path d="M601.50,779.40L579.43,712.76A70.2,70.2 0 0 1 620.40,711.79Z" fill="#e3c18f"/>
<path d="M601.50,779.40L620.40,711.79A70.2,70.2 0 0 1 653.47,732.20Z" fill="#81d8fa"/>
<path d="M601.50,779.40L653.47,732.20A70.2,70.2 0 0 1 662.31,744.33Z" fill="#d9865e"/>
<path d="M601.50,779.40L662.31,744.33A70.2,70.2 0 0 1 664.98,749.43Z" fill="#00a8e0"/>
<path d="M601.50,779.40L664.98,749.43A70.2,70.2 0 0 1 668.64,758.91Z" fill="#6470b4"/>
<path d="M601.50,779.40L668.64,758.91A70.2,70.2 0 0 1 636.28,840.38Z" fill="#fcc99b"/>
<path d="M601.50,779.40L636.28,840.38M601.50,779.40L579.43,846.04M601.50,779.40L539.51,812.34M601.50,779.40L543.89,739.29M601.50,779.40L563.88,720.13M601.50,779.40L579.43,712.76M601.50,779.40L620.40,711.79M601.50,779.40L653.47,732.20M601.50,779.40L662.31,744.33M601.50,779.40L664.98,749.43M601.50,779.40L668.64,758.91" stroke="#fff" stroke-width="0.45" stroke-opacity="0.55" fill="none" stroke-dasharray="1.6 0.9"/>
<text x="598.9" y="701.7" font-size="14.1" text-anchor="middle" fill="#000">9.4</text>
<text x="563.8" y="709.9" font-size="14.1" text-anchor="middle" fill="#000">3.9</text>
<text x="647.3" y="717.0" font-size="14.1" text-anchor="middle" fill="#000">8.9</text>
<text x="542" y="727.7" font-size="14.1" text-anchor="middle" fill="#000">6.3</text>
<text x="671.2" y="735.3" font-size="14.1" text-anchor="middle" fill="#000">3.4</text>
<text x="679.3" y="755.1" font-size="14.1" text-anchor="middle" fill="#000">2.3</text>
<text x="515" y="780.6" font-size="14.1" text-anchor="middle" fill="#000">17.4</text>
<text x="682.9" y="814.1" font-size="14.1" text-anchor="middle" fill="#000">21.4</text>
<text x="543.5" y="846.7" font-size="14.1" text-anchor="middle" fill="#000">12.1</text>
<text x="614.7" y="866.0" font-size="14.1" text-anchor="middle" fill="#000">13.3</text>
<text x="601.2" y="653.9" font-size="18.1" text-anchor="middle" fill="#000" textLength="221.3" lengthAdjust="spacingAndGlyphs" style="white-space:pre"><tspan font-weight="bold">Industry/Traffic:</tspan> 213.9 ppb</text>
<circle cx="845.6" cy="332.9" r="109.5" fill="#f6f0f6"/>
<path d="M846.00,333.80L880.78,394.78A70.2,70.2 0 0 1 871.23,399.31Z" fill="#7fc97f"/>
<path d="M846.00,333.80L871.23,399.31A70.2,70.2 0 0 1 848.43,403.96Z" fill="#beaed4"/>
<path d="M846.00,333.80L848.43,403.96A70.2,70.2 0 0 1 791.77,378.38Z" fill="#b3e2e8"/>
<path d="M846.00,333.80L791.77,378.38A70.2,70.2 0 0 1 777.26,319.56Z" fill="#c5c7ad"/>
<path d="M846.00,333.80L777.26,319.56A70.2,70.2 0 0 1 801.76,279.29Z" fill="#ffb5f9"/>
<path d="M846.00,333.80L801.76,279.29A70.2,70.2 0 0 1 816.31,270.19Z" fill="#bfecbf"/>
<path d="M846.00,333.80L816.31,270.19A70.2,70.2 0 0 1 833.06,264.80Z" fill="#e3c18f"/>
<path d="M846.00,333.80L833.06,264.80A70.2,70.2 0 0 1 840.05,263.85Z" fill="#81d8fa"/>
<path d="M846.00,333.80L840.05,263.85A70.2,70.2 0 0 1 844.02,263.63Z" fill="#d9865e"/>
<path d="M846.00,333.80L844.02,263.63A70.2,70.2 0 0 1 859.80,264.97Z" fill="#00a8e0"/>
<path d="M846.00,333.80L859.80,264.97A70.2,70.2 0 0 1 880.78,394.78Z" fill="#fcc99b"/>
<path d="M846.00,333.80L880.78,394.78M846.00,333.80L871.23,399.31M846.00,333.80L848.43,403.96M846.00,333.80L791.77,378.38M846.00,333.80L777.26,319.56M846.00,333.80L801.76,279.29M846.00,333.80L816.31,270.19M846.00,333.80L833.06,264.80M846.00,333.80L840.05,263.85M846.00,333.80L844.02,263.63M846.00,333.80L859.80,264.97" stroke="#fff" stroke-width="0.45" stroke-opacity="0.55" fill="none" stroke-dasharray="1.6 0.9"/>
<text x="851.3" y="255.9" font-size="14.1" text-anchor="middle" fill="#000">3.6</text>
<text x="821.1" y="258.8" font-size="14.1" text-anchor="middle" fill="#000">4.0</text>
<text x="795.9" y="268.7" font-size="14.1" text-anchor="middle" fill="#000">3.9</text>
<text x="769.5" y="298.4" font-size="14.1" text-anchor="middle" fill="#000">10.9</text>
<text x="932.5" y="334.4" font-size="14.1" text-anchor="middle" fill="#000">38.6</text>
<text x="763.1" y="362.7" font-size="14.1" text-anchor="middle" fill="#000">14.2</text>
<text x="805" y="411.0" font-size="14.1" text-anchor="middle" fill="#000">14.6</text>
<text x="862.9" y="420.1" font-size="14.1" text-anchor="middle" fill="#000">5.3</text>
<text x="887.4" y="413.3" font-size="14.1" text-anchor="middle" fill="#000">2.4</text>
<text x="847.8" y="205.5" font-size="18.1" text-anchor="middle" fill="#000" textLength="213.1" lengthAdjust="spacingAndGlyphs" style="white-space:pre"><tspan font-weight="bold">Natural/Traffic:</tspan> 199.5 ppb</text>
<rect x="720" y="466.5" width="249.2" height="301.5" fill="#e7f6fe"/>
<text x="732.2" y="487.4" font-size="13.3" font-weight="bold" fill="#000" textLength="140.6" lengthAdjust="spacingAndGlyphs">Main composition (%)</text>
<rect x="733" y="502.90" width="27.5" height="12.8" fill="#7fc97f"/>
<text x="765.2" y="513.80" font-size="12.8" fill="#000">Hexene/Methylcyclopentane</text>
<rect x="733" y="520.35" width="27.5" height="12.8" fill="#beaed4"/>
<text x="765.2" y="531.25" font-size="12.8" fill="#000">1,1-dichloroethylene</text>
<rect x="733" y="537.80" width="27.5" height="12.8" fill="#b3e2e8"/>
<text x="765.2" y="548.70" font-size="12.8" fill="#000">Pentene</text>
<rect x="733" y="555.25" width="27.5" height="12.8" fill="#ffff99"/>
<text x="765.2" y="566.15" font-size="12.8" fill="#000">Butene</text>
<rect x="733" y="572.70" width="27.5" height="12.8" fill="#c5c7ad"/>
<text x="765.2" y="583.60" font-size="12.8" fill="#000">Isoprene</text>
<rect x="733" y="590.15" width="27.5" height="12.8" fill="#ffb5f9"/>
<text x="765.2" y="601.05" font-size="12.8" fill="#000">Hexachloro-1,3-butadiene</text>
<rect x="733" y="607.60" width="27.5" height="12.8" fill="#bfecbf"/>
<text x="765.2" y="618.50" font-size="12.8" fill="#000">Trichloroethane</text>
<rect x="733" y="625.05" width="27.5" height="12.8" fill="#bfbfbf"/>
<text x="765.2" y="635.95" font-size="12.8" fill="#000">N-octane</text>
<rect x="733" y="642.50" width="27.5" height="12.8" fill="#e3c18f"/>
<text x="765.2" y="653.40" font-size="12.8" fill="#000">Toluene</text>
<rect x="733" y="659.95" width="27.5" height="12.8" fill="#81d8fa"/>
<text x="765.2" y="670.85" font-size="12.8" fill="#000">Xylene/Ethylbenzene</text>
<rect x="733" y="677.40" width="27.5" height="12.8" fill="#d9865e"/>
<text x="765.2" y="688.30" font-size="12.8" fill="#000">Trimethylene</text>
<rect x="733" y="694.85" width="27.5" height="12.8" fill="#ff9999"/>
<text x="765.2" y="705.75" font-size="12.8" fill="#000">Carbon disulfide/Propyl mercaptan</text>
<rect x="733" y="712.30" width="27.5" height="12.8" fill="#00a8e0"/>
<text x="765.2" y="723.20" font-size="12.8" fill="#000">Ether/Butylmercaptan</text>
<rect x="733" y="729.75" width="27.5" height="12.8" fill="#6470b4"/>
<text x="765.2" y="740.65" font-size="12.8" fill="#000">Methylcyclohexane</text>
<rect x="733" y="747.20" width="27.5" height="12.8" fill="#fcc99b"/>
<text x="765.2" y="758.10" font-size="12.8" fill="#000">Others</text>
</svg>
</body></html>
